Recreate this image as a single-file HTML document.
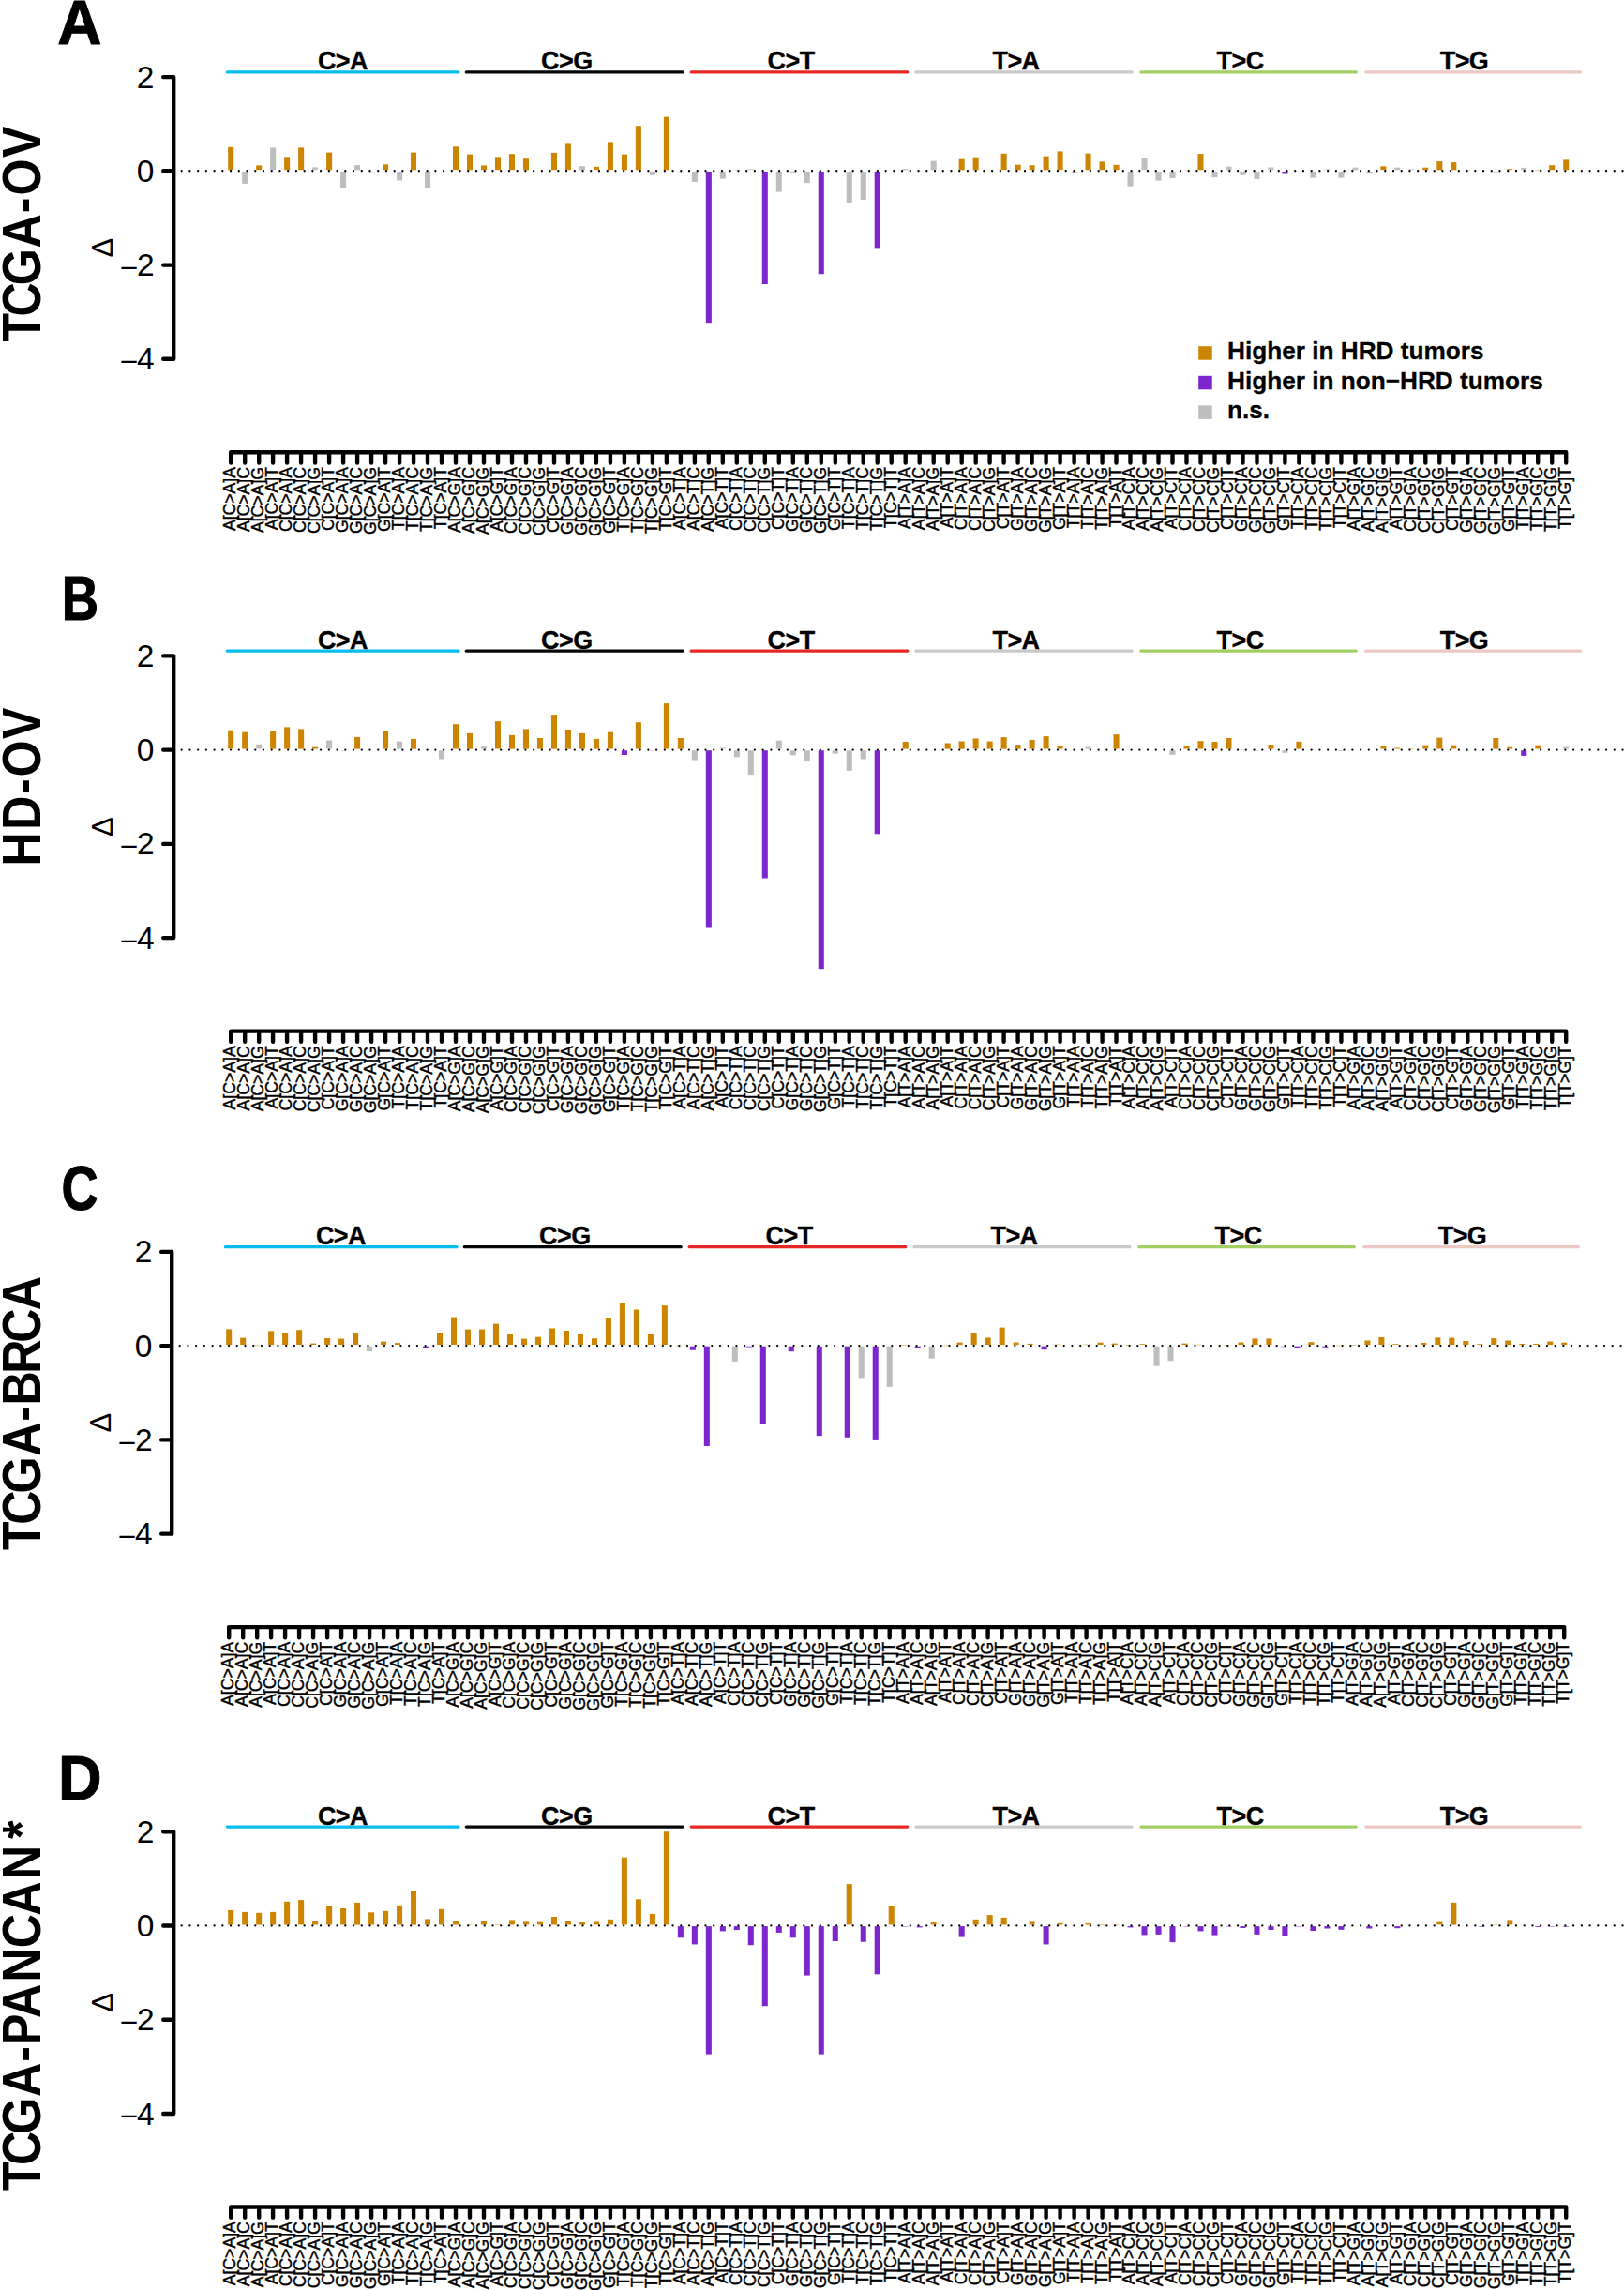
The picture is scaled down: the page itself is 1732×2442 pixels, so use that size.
<!DOCTYPE html>
<html lang="en"><head><meta charset="utf-8"><title>Figure</title>
<style>
html,body{margin:0;padding:0;background:#fff}
body{width:1732px;height:2442px;overflow:hidden}
svg{display:block}
text{font-family:"Liberation Sans",sans-serif;fill:#000}
.b{font-weight:bold}
.tk{font-size:33.5px;text-anchor:end}
.xl{font-size:18.2px;text-anchor:end;stroke:#000;stroke-width:0.45px}
.ct{font-size:27px;font-weight:bold;text-anchor:middle;letter-spacing:-0.6px;stroke:#000;stroke-width:0.3px}
.lg{font-size:26.2px;font-weight:bold;stroke:#000;stroke-width:0.3px}
.pl{font-size:65.8px;font-weight:bold;stroke:#000;stroke-width:1px;vector-effect:non-scaling-stroke;stroke-linejoin:round}
.sl{font-size:57px;font-weight:bold}
.ax{fill:none;stroke:#000;stroke-width:4.4;stroke-linecap:round;stroke-linejoin:round}
</style></head><body>
<svg width="1732" height="2442" viewBox="0 0 1732 2442">
<rect width="1732" height="2442" fill="#fff"/>
<g>
<text class="pl" transform="translate(61.3 47.0) scale(0.993 1)">A</text>
<text class="sl" transform="translate(42.8 364.0) rotate(-90) scale(0.88 1)" x="-0.6 30.2 68.0 113.2 155.4 176.7 222.7">TCGA-OV</text>
<g transform="translate(0.0 0.0)">
<line x1="242.4" y1="76.9" x2="489.0" y2="76.9" stroke="#03BDEF" stroke-width="3.2" stroke-linecap="round"/><text class="ct" x="365.4" y="74.4">C&gt;A</text>
<line x1="497.3" y1="76.9" x2="728.2" y2="76.9" stroke="#050708" stroke-width="3.2" stroke-linecap="round"/><text class="ct" x="604.3" y="74.4">C&gt;G</text>
<line x1="737.2" y1="76.9" x2="967.8" y2="76.9" stroke="#E62725" stroke-width="3.2" stroke-linecap="round"/><text class="ct" x="843.6" y="74.4">C&gt;T</text>
<line x1="977.0" y1="76.9" x2="1207.0" y2="76.9" stroke="#CBCACB" stroke-width="3.2" stroke-linecap="round"/><text class="ct" x="1083.5" y="74.4">T&gt;A</text>
<line x1="1216.9" y1="76.9" x2="1446.2" y2="76.9" stroke="#A1CF64" stroke-width="3.2" stroke-linecap="round"/><text class="ct" x="1322.6" y="74.4">T&gt;C</text>
<line x1="1456.7" y1="76.9" x2="1685.4" y2="76.9" stroke="#EDC8C5" stroke-width="3.2" stroke-linecap="round"/><text class="ct" x="1561.5" y="74.4">T&gt;G</text>
<rect x="243.16" y="156.8" width="6.05" height="24.5" fill="#CD8500"/><rect x="258.15" y="182.9" width="6.05" height="13.0" fill="#BEBEBE"/><rect x="273.14" y="176.4" width="6.05" height="4.8" fill="#CD8500"/><rect x="288.12" y="157.4" width="6.05" height="23.8" fill="#BEBEBE"/><rect x="303.12" y="167.3" width="6.05" height="13.9" fill="#CD8500"/><rect x="318.11" y="157.4" width="6.05" height="23.8" fill="#CD8500"/><rect x="333.10" y="178.4" width="6.05" height="2.8" fill="#BEBEBE"/><rect x="348.09" y="162.6" width="6.05" height="18.7" fill="#CD8500"/><rect x="363.08" y="182.9" width="6.05" height="17.3" fill="#BEBEBE"/><rect x="378.07" y="176.1" width="6.05" height="5.2" fill="#BEBEBE"/><rect x="393.06" y="182.9" width="6.05" height="0.6" fill="#BEBEBE" opacity="0.7"/><rect x="408.05" y="175.3" width="6.05" height="5.9" fill="#CD8500"/><rect x="423.04" y="182.9" width="6.05" height="9.5" fill="#BEBEBE"/><rect x="438.03" y="162.6" width="6.05" height="18.7" fill="#CD8500"/><rect x="453.02" y="182.9" width="6.05" height="17.5" fill="#BEBEBE"/><rect x="483.00" y="156.3" width="6.05" height="24.9" fill="#CD8500"/><rect x="497.99" y="164.6" width="6.05" height="16.7" fill="#CD8500"/><rect x="512.98" y="176.4" width="6.05" height="4.8" fill="#CD8500"/><rect x="527.97" y="167.3" width="6.05" height="13.9" fill="#CD8500"/><rect x="542.96" y="164.2" width="6.05" height="17.0" fill="#CD8500"/><rect x="557.95" y="169.2" width="6.05" height="12.1" fill="#CD8500"/><rect x="587.93" y="162.9" width="6.05" height="18.3" fill="#CD8500"/><rect x="602.92" y="153.4" width="6.05" height="27.8" fill="#CD8500"/><rect x="617.91" y="177.2" width="6.05" height="4.1" fill="#BEBEBE"/><rect x="632.90" y="177.8" width="6.05" height="3.4" fill="#CD8500"/><rect x="647.89" y="151.4" width="6.05" height="29.8" fill="#CD8500"/><rect x="662.88" y="164.6" width="6.05" height="16.7" fill="#CD8500"/><rect x="677.87" y="134.2" width="6.05" height="47.1" fill="#CD8500"/><rect x="692.86" y="182.9" width="6.05" height="3.9" fill="#BEBEBE"/><rect x="707.85" y="124.7" width="6.05" height="56.6" fill="#CD8500"/><rect x="722.84" y="182.9" width="6.05" height="0.6" fill="#BEBEBE" opacity="0.7"/><rect x="737.83" y="182.9" width="6.05" height="11.0" fill="#BEBEBE"/><rect x="752.82" y="182.9" width="6.05" height="161.3" fill="#7D26CD"/><rect x="767.80" y="182.9" width="6.05" height="7.7" fill="#BEBEBE"/><rect x="782.79" y="180.8" width="6.05" height="0.6" fill="#BEBEBE" opacity="0.7"/><rect x="797.78" y="180.4" width="6.05" height="0.8" fill="#BEBEBE"/><rect x="812.77" y="182.9" width="6.05" height="120.1" fill="#7D26CD"/><rect x="827.76" y="182.9" width="6.05" height="21.7" fill="#BEBEBE"/><rect x="842.75" y="182.9" width="6.05" height="1.9" fill="#BEBEBE"/><rect x="857.75" y="182.9" width="6.05" height="12.2" fill="#BEBEBE"/><rect x="872.74" y="182.9" width="6.05" height="109.3" fill="#7D26CD"/><rect x="902.72" y="182.9" width="6.05" height="33.4" fill="#BEBEBE"/><rect x="917.71" y="182.9" width="6.05" height="30.1" fill="#BEBEBE"/><rect x="932.70" y="182.9" width="6.05" height="81.5" fill="#7D26CD"/><rect x="962.68" y="180.1" width="6.05" height="1.2" fill="#BEBEBE"/><rect x="977.67" y="181.8" width="6.05" height="0.6" fill="#BEBEBE" opacity="0.7"/><rect x="992.66" y="171.7" width="6.05" height="9.6" fill="#BEBEBE"/><rect x="1022.64" y="169.7" width="6.05" height="11.6" fill="#CD8500"/><rect x="1037.62" y="167.7" width="6.05" height="13.6" fill="#CD8500"/><rect x="1052.62" y="181.8" width="6.05" height="0.6" fill="#BEBEBE" opacity="0.7"/><rect x="1067.61" y="163.8" width="6.05" height="17.4" fill="#CD8500"/><rect x="1082.60" y="175.6" width="6.05" height="5.7" fill="#CD8500"/><rect x="1097.59" y="176.2" width="6.05" height="5.0" fill="#CD8500"/><rect x="1112.57" y="166.6" width="6.05" height="14.7" fill="#CD8500"/><rect x="1127.56" y="161.4" width="6.05" height="19.8" fill="#CD8500"/><rect x="1142.55" y="182.9" width="6.05" height="1.7" fill="#BEBEBE"/><rect x="1157.54" y="163.7" width="6.05" height="17.6" fill="#CD8500"/><rect x="1172.53" y="172.4" width="6.05" height="8.8" fill="#CD8500"/><rect x="1187.52" y="175.8" width="6.05" height="5.4" fill="#CD8500"/><rect x="1202.51" y="182.9" width="6.05" height="15.7" fill="#BEBEBE"/><rect x="1217.50" y="168.2" width="6.05" height="13.0" fill="#BEBEBE"/><rect x="1232.49" y="182.9" width="6.05" height="9.7" fill="#BEBEBE"/><rect x="1247.48" y="182.9" width="6.05" height="7.1" fill="#BEBEBE"/><rect x="1262.47" y="180.8" width="6.05" height="0.6" fill="#BEBEBE" opacity="0.7"/><rect x="1277.46" y="164.1" width="6.05" height="17.2" fill="#CD8500"/><rect x="1292.45" y="182.9" width="6.05" height="6.2" fill="#BEBEBE"/><rect x="1307.44" y="177.6" width="6.05" height="3.7" fill="#BEBEBE"/><rect x="1322.43" y="182.9" width="6.05" height="3.9" fill="#BEBEBE"/><rect x="1337.42" y="182.9" width="6.05" height="8.0" fill="#BEBEBE"/><rect x="1352.41" y="178.4" width="6.05" height="2.8" fill="#BEBEBE"/><rect x="1367.40" y="182.9" width="6.05" height="2.6" fill="#7D26CD"/><rect x="1382.39" y="181.9" width="6.05" height="0.6" fill="#BEBEBE" opacity="0.7"/><rect x="1397.38" y="182.9" width="6.05" height="6.7" fill="#BEBEBE"/><rect x="1412.38" y="180.4" width="6.05" height="0.8" fill="#BEBEBE"/><rect x="1427.37" y="182.9" width="6.05" height="6.7" fill="#BEBEBE"/><rect x="1442.36" y="178.7" width="6.05" height="2.6" fill="#BEBEBE"/><rect x="1457.35" y="182.9" width="6.05" height="2.3" fill="#BEBEBE"/><rect x="1472.34" y="177.3" width="6.05" height="3.9" fill="#CD8500"/><rect x="1487.33" y="178.7" width="6.05" height="2.6" fill="#BEBEBE"/><rect x="1502.32" y="180.4" width="6.05" height="0.8" fill="#BEBEBE"/><rect x="1517.31" y="178.7" width="6.05" height="2.6" fill="#CD8500"/><rect x="1532.30" y="172.1" width="6.05" height="9.2" fill="#CD8500"/><rect x="1547.29" y="173.1" width="6.05" height="8.2" fill="#CD8500"/><rect x="1562.28" y="181.2" width="6.05" height="0.6" fill="#BEBEBE" opacity="0.7"/><rect x="1592.25" y="182.9" width="6.05" height="0.8" fill="#BEBEBE"/><rect x="1607.24" y="180.2" width="6.05" height="1.0" fill="#CD8500"/><rect x="1622.23" y="178.9" width="6.05" height="2.3" fill="#BEBEBE"/><rect x="1637.22" y="181.2" width="6.05" height="0.6" fill="#CD8500" opacity="0.7"/><rect x="1652.21" y="176.2" width="6.05" height="5.1" fill="#CD8500"/><rect x="1667.20" y="170.4" width="6.05" height="10.8" fill="#CD8500"/>
<line x1="184.93" y1="182.25" x2="1745" y2="182.25" stroke="#000" stroke-width="2.3" stroke-linecap="round" stroke-dasharray="0 8.732"/>
<path class="ax" d="M174.2 82.1H185.2V382.8H174.2M174.2 182.3H185.2M174.2 282.6H185.2"/>
<text class="tk" x="164.4" y="93.7">2</text><text class="tk" x="164.4" y="193.9">0</text><text class="tk" x="163.3" y="294.2"><tspan dx="1.3" dy="2.85">−</tspan><tspan dx="-1.3" dy="-2.85">2</tspan></text><text class="tk" x="163.3" y="394.4"><tspan dx="1.3" dy="2.85">−</tspan><tspan dx="-1.3" dy="-2.85">4</tspan></text>
<text transform="translate(120.2 274.6) rotate(-90)" font-size="30.8">Δ</text>
<path class="ax" d="M246.18 482.3H1670.23M246.2 482.3v11.15M261.2 482.3v11.15M276.2 482.3v11.15M291.1 482.3v11.15M306.1 482.3v11.15M321.1 482.3v11.15M336.1 482.3v11.15M351.1 482.3v11.15M366.1 482.3v11.15M381.1 482.3v11.15M396.1 482.3v11.15M411.1 482.3v11.15M426.1 482.3v11.15M441.1 482.3v11.15M456.0 482.3v11.15M471.0 482.3v11.15M486.0 482.3v11.15M501.0 482.3v11.15M516.0 482.3v11.15M531.0 482.3v11.15M546.0 482.3v11.15M561.0 482.3v11.15M576.0 482.3v11.15M591.0 482.3v11.15M605.9 482.3v11.15M620.9 482.3v11.15M635.9 482.3v11.15M650.9 482.3v11.15M665.9 482.3v11.15M680.9 482.3v11.15M695.9 482.3v11.15M710.9 482.3v11.15M725.9 482.3v11.15M740.9 482.3v11.15M755.8 482.3v11.15M770.8 482.3v11.15M785.8 482.3v11.15M800.8 482.3v11.15M815.8 482.3v11.15M830.8 482.3v11.15M845.8 482.3v11.15M860.8 482.3v11.15M875.8 482.3v11.15M890.8 482.3v11.15M905.7 482.3v11.15M920.7 482.3v11.15M935.7 482.3v11.15M950.7 482.3v11.15M965.7 482.3v11.15M980.7 482.3v11.15M995.7 482.3v11.15M1010.7 482.3v11.15M1025.7 482.3v11.15M1040.7 482.3v11.15M1055.6 482.3v11.15M1070.6 482.3v11.15M1085.6 482.3v11.15M1100.6 482.3v11.15M1115.6 482.3v11.15M1130.6 482.3v11.15M1145.6 482.3v11.15M1160.6 482.3v11.15M1175.6 482.3v11.15M1190.5 482.3v11.15M1205.5 482.3v11.15M1220.5 482.3v11.15M1235.5 482.3v11.15M1250.5 482.3v11.15M1265.5 482.3v11.15M1280.5 482.3v11.15M1295.5 482.3v11.15M1310.5 482.3v11.15M1325.5 482.3v11.15M1340.5 482.3v11.15M1355.4 482.3v11.15M1370.4 482.3v11.15M1385.4 482.3v11.15M1400.4 482.3v11.15M1415.4 482.3v11.15M1430.4 482.3v11.15M1445.4 482.3v11.15M1460.4 482.3v11.15M1475.4 482.3v11.15M1490.4 482.3v11.15M1505.3 482.3v11.15M1520.3 482.3v11.15M1535.3 482.3v11.15M1550.3 482.3v11.15M1565.3 482.3v11.15M1580.3 482.3v11.15M1595.3 482.3v11.15M1610.3 482.3v11.15M1625.3 482.3v11.15M1640.2 482.3v11.15M1655.2 482.3v11.15M1670.2 482.3v11.15"/>
<text class="xl" transform="translate(251.1 498.0) rotate(-90) scale(0.97 1)">A[C&gt;A]A</text><text class="xl" transform="translate(266.1 498.0) rotate(-90) scale(0.97 1)">A[C&gt;A]C</text><text class="xl" transform="translate(281.1 498.0) rotate(-90) scale(0.97 1)">A[C&gt;A]G</text><text class="xl" transform="translate(296.0 498.0) rotate(-90) scale(0.97 1)">A[C&gt;A]T</text><text class="xl" transform="translate(311.0 498.0) rotate(-90) scale(0.97 1)">C[C&gt;A]A</text><text class="xl" transform="translate(326.0 498.0) rotate(-90) scale(0.97 1)">C[C&gt;A]C</text><text class="xl" transform="translate(341.0 498.0) rotate(-90) scale(0.97 1)">C[C&gt;A]G</text><text class="xl" transform="translate(356.0 498.0) rotate(-90) scale(0.97 1)">C[C&gt;A]T</text><text class="xl" transform="translate(371.0 498.0) rotate(-90) scale(0.97 1)">G[C&gt;A]A</text><text class="xl" transform="translate(386.0 498.0) rotate(-90) scale(0.97 1)">G[C&gt;A]C</text><text class="xl" transform="translate(401.0 498.0) rotate(-90) scale(0.97 1)">G[C&gt;A]G</text><text class="xl" transform="translate(416.0 498.0) rotate(-90) scale(0.97 1)">G[C&gt;A]T</text><text class="xl" transform="translate(431.0 498.0) rotate(-90) scale(0.97 1)">T[C&gt;A]A</text><text class="xl" transform="translate(445.9 498.0) rotate(-90) scale(0.97 1)">T[C&gt;A]C</text><text class="xl" transform="translate(460.9 498.0) rotate(-90) scale(0.97 1)">T[C&gt;A]G</text><text class="xl" transform="translate(475.9 498.0) rotate(-90) scale(0.97 1)">T[C&gt;A]T</text><text class="xl" transform="translate(490.9 498.0) rotate(-90) scale(0.97 1)">A[C&gt;G]A</text><text class="xl" transform="translate(505.9 498.0) rotate(-90) scale(0.97 1)">A[C&gt;G]C</text><text class="xl" transform="translate(520.9 498.0) rotate(-90) scale(0.97 1)">A[C&gt;G]G</text><text class="xl" transform="translate(535.9 498.0) rotate(-90) scale(0.97 1)">A[C&gt;G]T</text><text class="xl" transform="translate(550.9 498.0) rotate(-90) scale(0.97 1)">C[C&gt;G]A</text><text class="xl" transform="translate(565.9 498.0) rotate(-90) scale(0.97 1)">C[C&gt;G]C</text><text class="xl" transform="translate(580.9 498.0) rotate(-90) scale(0.97 1)">C[C&gt;G]G</text><text class="xl" transform="translate(595.9 498.0) rotate(-90) scale(0.97 1)">C[C&gt;G]T</text><text class="xl" transform="translate(610.8 498.0) rotate(-90) scale(0.97 1)">G[C&gt;G]A</text><text class="xl" transform="translate(625.8 498.0) rotate(-90) scale(0.97 1)">G[C&gt;G]C</text><text class="xl" transform="translate(640.8 498.0) rotate(-90) scale(0.97 1)">G[C&gt;G]G</text><text class="xl" transform="translate(655.8 498.0) rotate(-90) scale(0.97 1)">G[C&gt;G]T</text><text class="xl" transform="translate(670.8 498.0) rotate(-90) scale(0.97 1)">T[C&gt;G]A</text><text class="xl" transform="translate(685.8 498.0) rotate(-90) scale(0.97 1)">T[C&gt;G]C</text><text class="xl" transform="translate(700.8 498.0) rotate(-90) scale(0.97 1)">T[C&gt;G]G</text><text class="xl" transform="translate(715.8 498.0) rotate(-90) scale(0.97 1)">T[C&gt;G]T</text><text class="xl" transform="translate(730.8 498.0) rotate(-90) scale(0.97 1)">A[C&gt;T]A</text><text class="xl" transform="translate(745.8 498.0) rotate(-90) scale(0.97 1)">A[C&gt;T]C</text><text class="xl" transform="translate(760.7 498.0) rotate(-90) scale(0.97 1)">A[C&gt;T]G</text><text class="xl" transform="translate(775.7 498.0) rotate(-90) scale(0.97 1)">A[C&gt;T]T</text><text class="xl" transform="translate(790.7 498.0) rotate(-90) scale(0.97 1)">C[C&gt;T]A</text><text class="xl" transform="translate(805.7 498.0) rotate(-90) scale(0.97 1)">C[C&gt;T]C</text><text class="xl" transform="translate(820.7 498.0) rotate(-90) scale(0.97 1)">C[C&gt;T]G</text><text class="xl" transform="translate(835.7 498.0) rotate(-90) scale(0.97 1)">C[C&gt;T]T</text><text class="xl" transform="translate(850.7 498.0) rotate(-90) scale(0.97 1)">G[C&gt;T]A</text><text class="xl" transform="translate(865.7 498.0) rotate(-90) scale(0.97 1)">G[C&gt;T]C</text><text class="xl" transform="translate(880.7 498.0) rotate(-90) scale(0.97 1)">G[C&gt;T]G</text><text class="xl" transform="translate(895.6 498.0) rotate(-90) scale(0.97 1)">G[C&gt;T]T</text><text class="xl" transform="translate(910.6 498.0) rotate(-90) scale(0.97 1)">T[C&gt;T]A</text><text class="xl" transform="translate(925.6 498.0) rotate(-90) scale(0.97 1)">T[C&gt;T]C</text><text class="xl" transform="translate(940.6 498.0) rotate(-90) scale(0.97 1)">T[C&gt;T]G</text><text class="xl" transform="translate(955.6 498.0) rotate(-90) scale(0.97 1)">T[C&gt;T]T</text><text class="xl" transform="translate(970.6 498.0) rotate(-90) scale(0.97 1)">A[T&gt;A]A</text><text class="xl" transform="translate(985.6 498.0) rotate(-90) scale(0.97 1)">A[T&gt;A]C</text><text class="xl" transform="translate(1000.6 498.0) rotate(-90) scale(0.97 1)">A[T&gt;A]G</text><text class="xl" transform="translate(1015.6 498.0) rotate(-90) scale(0.97 1)">A[T&gt;A]T</text><text class="xl" transform="translate(1030.6 498.0) rotate(-90) scale(0.97 1)">C[T&gt;A]A</text><text class="xl" transform="translate(1045.6 498.0) rotate(-90) scale(0.97 1)">C[T&gt;A]C</text><text class="xl" transform="translate(1060.5 498.0) rotate(-90) scale(0.97 1)">C[T&gt;A]G</text><text class="xl" transform="translate(1075.5 498.0) rotate(-90) scale(0.97 1)">C[T&gt;A]T</text><text class="xl" transform="translate(1090.5 498.0) rotate(-90) scale(0.97 1)">G[T&gt;A]A</text><text class="xl" transform="translate(1105.5 498.0) rotate(-90) scale(0.97 1)">G[T&gt;A]C</text><text class="xl" transform="translate(1120.5 498.0) rotate(-90) scale(0.97 1)">G[T&gt;A]G</text><text class="xl" transform="translate(1135.5 498.0) rotate(-90) scale(0.97 1)">G[T&gt;A]T</text><text class="xl" transform="translate(1150.5 498.0) rotate(-90) scale(0.97 1)">T[T&gt;A]A</text><text class="xl" transform="translate(1165.5 498.0) rotate(-90) scale(0.97 1)">T[T&gt;A]C</text><text class="xl" transform="translate(1180.5 498.0) rotate(-90) scale(0.97 1)">T[T&gt;A]G</text><text class="xl" transform="translate(1195.5 498.0) rotate(-90) scale(0.97 1)">T[T&gt;A]T</text><text class="xl" transform="translate(1210.4 498.0) rotate(-90) scale(0.97 1)">A[T&gt;C]A</text><text class="xl" transform="translate(1225.4 498.0) rotate(-90) scale(0.97 1)">A[T&gt;C]C</text><text class="xl" transform="translate(1240.4 498.0) rotate(-90) scale(0.97 1)">A[T&gt;C]G</text><text class="xl" transform="translate(1255.4 498.0) rotate(-90) scale(0.97 1)">A[T&gt;C]T</text><text class="xl" transform="translate(1270.4 498.0) rotate(-90) scale(0.97 1)">C[T&gt;C]A</text><text class="xl" transform="translate(1285.4 498.0) rotate(-90) scale(0.97 1)">C[T&gt;C]C</text><text class="xl" transform="translate(1300.4 498.0) rotate(-90) scale(0.97 1)">C[T&gt;C]G</text><text class="xl" transform="translate(1315.4 498.0) rotate(-90) scale(0.97 1)">C[T&gt;C]T</text><text class="xl" transform="translate(1330.4 498.0) rotate(-90) scale(0.97 1)">G[T&gt;C]A</text><text class="xl" transform="translate(1345.4 498.0) rotate(-90) scale(0.97 1)">G[T&gt;C]C</text><text class="xl" transform="translate(1360.3 498.0) rotate(-90) scale(0.97 1)">G[T&gt;C]G</text><text class="xl" transform="translate(1375.3 498.0) rotate(-90) scale(0.97 1)">G[T&gt;C]T</text><text class="xl" transform="translate(1390.3 498.0) rotate(-90) scale(0.97 1)">T[T&gt;C]A</text><text class="xl" transform="translate(1405.3 498.0) rotate(-90) scale(0.97 1)">T[T&gt;C]C</text><text class="xl" transform="translate(1420.3 498.0) rotate(-90) scale(0.97 1)">T[T&gt;C]G</text><text class="xl" transform="translate(1435.3 498.0) rotate(-90) scale(0.97 1)">T[T&gt;C]T</text><text class="xl" transform="translate(1450.3 498.0) rotate(-90) scale(0.97 1)">A[T&gt;G]A</text><text class="xl" transform="translate(1465.3 498.0) rotate(-90) scale(0.97 1)">A[T&gt;G]C</text><text class="xl" transform="translate(1480.3 498.0) rotate(-90) scale(0.97 1)">A[T&gt;G]G</text><text class="xl" transform="translate(1495.3 498.0) rotate(-90) scale(0.97 1)">A[T&gt;G]T</text><text class="xl" transform="translate(1510.2 498.0) rotate(-90) scale(0.97 1)">C[T&gt;G]A</text><text class="xl" transform="translate(1525.2 498.0) rotate(-90) scale(0.97 1)">C[T&gt;G]C</text><text class="xl" transform="translate(1540.2 498.0) rotate(-90) scale(0.97 1)">C[T&gt;G]G</text><text class="xl" transform="translate(1555.2 498.0) rotate(-90) scale(0.97 1)">C[T&gt;G]T</text><text class="xl" transform="translate(1570.2 498.0) rotate(-90) scale(0.97 1)">G[T&gt;G]A</text><text class="xl" transform="translate(1585.2 498.0) rotate(-90) scale(0.97 1)">G[T&gt;G]C</text><text class="xl" transform="translate(1600.2 498.0) rotate(-90) scale(0.97 1)">G[T&gt;G]G</text><text class="xl" transform="translate(1615.2 498.0) rotate(-90) scale(0.97 1)">G[T&gt;G]T</text><text class="xl" transform="translate(1630.2 498.0) rotate(-90) scale(0.97 1)">T[T&gt;G]A</text><text class="xl" transform="translate(1645.2 498.0) rotate(-90) scale(0.97 1)">T[T&gt;G]C</text><text class="xl" transform="translate(1660.1 498.0) rotate(-90) scale(0.97 1)">T[T&gt;G]G</text><text class="xl" transform="translate(1675.1 498.0) rotate(-90) scale(0.97 1)">T[T&gt;G]T</text>
<rect x="1278.2" y="369.2" width="14.5" height="14.5" fill="#CD8500"/><text class="lg" x="1309.0" y="383.1">Higher in HRD tumors</text>
<rect x="1278.2" y="400.8" width="14.5" height="14.5" fill="#7D26CD"/><text class="lg" x="1309.0" y="414.8">Higher in non−HRD tumors</text>
<rect x="1278.2" y="432.4" width="14.5" height="14.5" fill="#BEBEBE"/><text class="lg" x="1309.0" y="446.4">n.s.</text>
</g></g>
<g>
<text class="pl" transform="translate(65.8 661.2) scale(0.828 1)">B</text>
<text class="sl" transform="translate(42.8 920.7) rotate(-90) scale(0.88 1)" x="-3.3 40.8 83.8 104.7 150.8">HD-OV</text>
<g transform="translate(0.0 617.3)">
<line x1="242.4" y1="76.9" x2="489.0" y2="76.9" stroke="#03BDEF" stroke-width="3.2" stroke-linecap="round"/><text class="ct" x="365.4" y="74.4">C&gt;A</text>
<line x1="497.3" y1="76.9" x2="728.2" y2="76.9" stroke="#050708" stroke-width="3.2" stroke-linecap="round"/><text class="ct" x="604.3" y="74.4">C&gt;G</text>
<line x1="737.2" y1="76.9" x2="967.8" y2="76.9" stroke="#E62725" stroke-width="3.2" stroke-linecap="round"/><text class="ct" x="843.6" y="74.4">C&gt;T</text>
<line x1="977.0" y1="76.9" x2="1207.0" y2="76.9" stroke="#CBCACB" stroke-width="3.2" stroke-linecap="round"/><text class="ct" x="1083.5" y="74.4">T&gt;A</text>
<line x1="1216.9" y1="76.9" x2="1446.2" y2="76.9" stroke="#A1CF64" stroke-width="3.2" stroke-linecap="round"/><text class="ct" x="1322.6" y="74.4">T&gt;C</text>
<line x1="1456.7" y1="76.9" x2="1685.4" y2="76.9" stroke="#EDC8C5" stroke-width="3.2" stroke-linecap="round"/><text class="ct" x="1561.5" y="74.4">T&gt;G</text>
<rect x="243.16" y="161.4" width="6.05" height="19.8" fill="#CD8500"/><rect x="258.15" y="163.4" width="6.05" height="17.8" fill="#CD8500"/><rect x="273.14" y="176.4" width="6.05" height="4.8" fill="#BEBEBE"/><rect x="288.12" y="162.1" width="6.05" height="19.2" fill="#CD8500"/><rect x="303.12" y="158.1" width="6.05" height="23.2" fill="#CD8500"/><rect x="318.11" y="160.1" width="6.05" height="21.2" fill="#CD8500"/><rect x="333.10" y="179.3" width="6.05" height="1.9" fill="#CD8500"/><rect x="348.09" y="172.2" width="6.05" height="9.0" fill="#BEBEBE"/><rect x="363.08" y="182.9" width="6.05" height="0.6" fill="#BEBEBE" opacity="0.7"/><rect x="378.07" y="168.6" width="6.05" height="12.7" fill="#CD8500"/><rect x="408.05" y="161.7" width="6.05" height="19.6" fill="#CD8500"/><rect x="423.04" y="173.3" width="6.05" height="7.9" fill="#BEBEBE"/><rect x="438.03" y="170.6" width="6.05" height="10.7" fill="#CD8500"/><rect x="453.02" y="181.8" width="6.05" height="0.6" fill="#BEBEBE" opacity="0.7"/><rect x="468.00" y="182.9" width="6.05" height="9.3" fill="#BEBEBE"/><rect x="483.00" y="154.9" width="6.05" height="26.3" fill="#CD8500"/><rect x="497.99" y="164.6" width="6.05" height="16.7" fill="#CD8500"/><rect x="512.98" y="178.8" width="6.05" height="2.5" fill="#BEBEBE"/><rect x="527.97" y="151.8" width="6.05" height="29.4" fill="#CD8500"/><rect x="542.96" y="166.6" width="6.05" height="14.7" fill="#CD8500"/><rect x="557.95" y="160.1" width="6.05" height="21.2" fill="#CD8500"/><rect x="572.94" y="169.7" width="6.05" height="11.6" fill="#CD8500"/><rect x="587.93" y="144.8" width="6.05" height="36.5" fill="#CD8500"/><rect x="602.92" y="160.6" width="6.05" height="20.7" fill="#CD8500"/><rect x="617.91" y="164.6" width="6.05" height="16.7" fill="#CD8500"/><rect x="632.90" y="170.6" width="6.05" height="10.7" fill="#CD8500"/><rect x="647.89" y="163.4" width="6.05" height="17.8" fill="#CD8500"/><rect x="662.88" y="182.9" width="6.05" height="4.8" fill="#7D26CD"/><rect x="677.87" y="152.9" width="6.05" height="28.3" fill="#CD8500"/><rect x="692.86" y="182.9" width="6.05" height="0.6" fill="#BEBEBE" opacity="0.7"/><rect x="707.85" y="132.8" width="6.05" height="48.4" fill="#CD8500"/><rect x="722.84" y="169.7" width="6.05" height="11.6" fill="#CD8500"/><rect x="737.83" y="182.9" width="6.05" height="10.4" fill="#BEBEBE"/><rect x="752.82" y="182.9" width="6.05" height="189.3" fill="#7D26CD"/><rect x="767.80" y="180.2" width="6.05" height="1.0" fill="#BEBEBE"/><rect x="782.79" y="182.9" width="6.05" height="7.1" fill="#BEBEBE"/><rect x="797.78" y="182.9" width="6.05" height="25.9" fill="#BEBEBE"/><rect x="812.77" y="182.9" width="6.05" height="136.3" fill="#7D26CD"/><rect x="827.76" y="172.4" width="6.05" height="8.8" fill="#BEBEBE"/><rect x="842.75" y="182.9" width="6.05" height="5.1" fill="#BEBEBE"/><rect x="857.75" y="182.9" width="6.05" height="11.9" fill="#BEBEBE"/><rect x="872.74" y="182.9" width="6.05" height="233.0" fill="#7D26CD"/><rect x="887.73" y="182.9" width="6.05" height="3.5" fill="#BEBEBE"/><rect x="902.72" y="182.9" width="6.05" height="21.7" fill="#BEBEBE"/><rect x="917.71" y="182.9" width="6.05" height="9.3" fill="#BEBEBE"/><rect x="932.70" y="182.9" width="6.05" height="89.1" fill="#7D26CD"/><rect x="962.68" y="173.7" width="6.05" height="7.6" fill="#CD8500"/><rect x="1007.65" y="175.2" width="6.05" height="6.1" fill="#CD8500"/><rect x="1022.64" y="173.2" width="6.05" height="8.1" fill="#CD8500"/><rect x="1037.62" y="170.2" width="6.05" height="11.0" fill="#CD8500"/><rect x="1052.62" y="173.3" width="6.05" height="7.9" fill="#CD8500"/><rect x="1067.61" y="168.8" width="6.05" height="12.5" fill="#CD8500"/><rect x="1082.60" y="176.8" width="6.05" height="4.5" fill="#CD8500"/><rect x="1097.59" y="171.7" width="6.05" height="9.6" fill="#CD8500"/><rect x="1112.57" y="167.8" width="6.05" height="13.4" fill="#CD8500"/><rect x="1127.56" y="178.1" width="6.05" height="3.2" fill="#CD8500"/><rect x="1157.54" y="179.2" width="6.05" height="2.1" fill="#BEBEBE"/><rect x="1187.52" y="165.8" width="6.05" height="15.4" fill="#CD8500"/><rect x="1202.51" y="181.8" width="6.05" height="0.6" fill="#BEBEBE" opacity="0.7"/><rect x="1247.48" y="182.9" width="6.05" height="4.6" fill="#BEBEBE"/><rect x="1262.47" y="177.8" width="6.05" height="3.4" fill="#CD8500"/><rect x="1277.46" y="172.9" width="6.05" height="8.3" fill="#CD8500"/><rect x="1292.45" y="173.7" width="6.05" height="7.6" fill="#CD8500"/><rect x="1307.44" y="169.7" width="6.05" height="11.6" fill="#CD8500"/><rect x="1322.43" y="181.8" width="6.05" height="0.6" fill="#BEBEBE" opacity="0.7"/><rect x="1337.42" y="182.9" width="6.05" height="0.6" fill="#BEBEBE" opacity="0.7"/><rect x="1352.41" y="176.7" width="6.05" height="4.6" fill="#CD8500"/><rect x="1367.40" y="182.9" width="6.05" height="2.6" fill="#BEBEBE"/><rect x="1382.39" y="173.6" width="6.05" height="7.7" fill="#CD8500"/><rect x="1397.38" y="181.8" width="6.05" height="0.6" fill="#BEBEBE" opacity="0.7"/><rect x="1427.37" y="182.9" width="6.05" height="0.8" fill="#BEBEBE"/><rect x="1472.34" y="178.4" width="6.05" height="2.8" fill="#CD8500"/><rect x="1487.33" y="180.2" width="6.05" height="1.0" fill="#CD8500"/><rect x="1502.32" y="180.9" width="6.05" height="0.6" fill="#CD8500" opacity="0.7"/><rect x="1517.31" y="177.3" width="6.05" height="3.9" fill="#CD8500"/><rect x="1532.30" y="169.4" width="6.05" height="11.8" fill="#CD8500"/><rect x="1547.29" y="177.3" width="6.05" height="3.9" fill="#CD8500"/><rect x="1562.28" y="182.9" width="6.05" height="0.6" fill="#BEBEBE" opacity="0.7"/><rect x="1577.27" y="182.9" width="6.05" height="0.6" fill="#BEBEBE" opacity="0.7"/><rect x="1592.25" y="169.7" width="6.05" height="11.6" fill="#CD8500"/><rect x="1607.24" y="179.4" width="6.05" height="1.8" fill="#CD8500"/><rect x="1622.23" y="182.9" width="6.05" height="5.7" fill="#7D26CD"/><rect x="1637.22" y="177.3" width="6.05" height="3.9" fill="#CD8500"/><rect x="1667.20" y="179.2" width="6.05" height="2.0" fill="#BEBEBE"/>
<line x1="184.93" y1="182.25" x2="1745" y2="182.25" stroke="#000" stroke-width="2.3" stroke-linecap="round" stroke-dasharray="0 8.732"/>
<path class="ax" d="M174.2 82.1H185.2V382.8H174.2M174.2 182.3H185.2M174.2 282.6H185.2"/>
<text class="tk" x="164.4" y="93.7">2</text><text class="tk" x="164.4" y="193.9">0</text><text class="tk" x="163.3" y="294.2"><tspan dx="1.3" dy="2.85">−</tspan><tspan dx="-1.3" dy="-2.85">2</tspan></text><text class="tk" x="163.3" y="394.4"><tspan dx="1.3" dy="2.85">−</tspan><tspan dx="-1.3" dy="-2.85">4</tspan></text>
<text transform="translate(120.2 274.6) rotate(-90)" font-size="30.8">Δ</text>
<path class="ax" d="M246.18 482.3H1670.23M246.2 482.3v11.15M261.2 482.3v11.15M276.2 482.3v11.15M291.1 482.3v11.15M306.1 482.3v11.15M321.1 482.3v11.15M336.1 482.3v11.15M351.1 482.3v11.15M366.1 482.3v11.15M381.1 482.3v11.15M396.1 482.3v11.15M411.1 482.3v11.15M426.1 482.3v11.15M441.1 482.3v11.15M456.0 482.3v11.15M471.0 482.3v11.15M486.0 482.3v11.15M501.0 482.3v11.15M516.0 482.3v11.15M531.0 482.3v11.15M546.0 482.3v11.15M561.0 482.3v11.15M576.0 482.3v11.15M591.0 482.3v11.15M605.9 482.3v11.15M620.9 482.3v11.15M635.9 482.3v11.15M650.9 482.3v11.15M665.9 482.3v11.15M680.9 482.3v11.15M695.9 482.3v11.15M710.9 482.3v11.15M725.9 482.3v11.15M740.9 482.3v11.15M755.8 482.3v11.15M770.8 482.3v11.15M785.8 482.3v11.15M800.8 482.3v11.15M815.8 482.3v11.15M830.8 482.3v11.15M845.8 482.3v11.15M860.8 482.3v11.15M875.8 482.3v11.15M890.8 482.3v11.15M905.7 482.3v11.15M920.7 482.3v11.15M935.7 482.3v11.15M950.7 482.3v11.15M965.7 482.3v11.15M980.7 482.3v11.15M995.7 482.3v11.15M1010.7 482.3v11.15M1025.7 482.3v11.15M1040.7 482.3v11.15M1055.6 482.3v11.15M1070.6 482.3v11.15M1085.6 482.3v11.15M1100.6 482.3v11.15M1115.6 482.3v11.15M1130.6 482.3v11.15M1145.6 482.3v11.15M1160.6 482.3v11.15M1175.6 482.3v11.15M1190.5 482.3v11.15M1205.5 482.3v11.15M1220.5 482.3v11.15M1235.5 482.3v11.15M1250.5 482.3v11.15M1265.5 482.3v11.15M1280.5 482.3v11.15M1295.5 482.3v11.15M1310.5 482.3v11.15M1325.5 482.3v11.15M1340.5 482.3v11.15M1355.4 482.3v11.15M1370.4 482.3v11.15M1385.4 482.3v11.15M1400.4 482.3v11.15M1415.4 482.3v11.15M1430.4 482.3v11.15M1445.4 482.3v11.15M1460.4 482.3v11.15M1475.4 482.3v11.15M1490.4 482.3v11.15M1505.3 482.3v11.15M1520.3 482.3v11.15M1535.3 482.3v11.15M1550.3 482.3v11.15M1565.3 482.3v11.15M1580.3 482.3v11.15M1595.3 482.3v11.15M1610.3 482.3v11.15M1625.3 482.3v11.15M1640.2 482.3v11.15M1655.2 482.3v11.15M1670.2 482.3v11.15"/>
<text class="xl" transform="translate(251.1 498.0) rotate(-90) scale(0.97 1)">A[C&gt;A]A</text><text class="xl" transform="translate(266.1 498.0) rotate(-90) scale(0.97 1)">A[C&gt;A]C</text><text class="xl" transform="translate(281.1 498.0) rotate(-90) scale(0.97 1)">A[C&gt;A]G</text><text class="xl" transform="translate(296.0 498.0) rotate(-90) scale(0.97 1)">A[C&gt;A]T</text><text class="xl" transform="translate(311.0 498.0) rotate(-90) scale(0.97 1)">C[C&gt;A]A</text><text class="xl" transform="translate(326.0 498.0) rotate(-90) scale(0.97 1)">C[C&gt;A]C</text><text class="xl" transform="translate(341.0 498.0) rotate(-90) scale(0.97 1)">C[C&gt;A]G</text><text class="xl" transform="translate(356.0 498.0) rotate(-90) scale(0.97 1)">C[C&gt;A]T</text><text class="xl" transform="translate(371.0 498.0) rotate(-90) scale(0.97 1)">G[C&gt;A]A</text><text class="xl" transform="translate(386.0 498.0) rotate(-90) scale(0.97 1)">G[C&gt;A]C</text><text class="xl" transform="translate(401.0 498.0) rotate(-90) scale(0.97 1)">G[C&gt;A]G</text><text class="xl" transform="translate(416.0 498.0) rotate(-90) scale(0.97 1)">G[C&gt;A]T</text><text class="xl" transform="translate(431.0 498.0) rotate(-90) scale(0.97 1)">T[C&gt;A]A</text><text class="xl" transform="translate(445.9 498.0) rotate(-90) scale(0.97 1)">T[C&gt;A]C</text><text class="xl" transform="translate(460.9 498.0) rotate(-90) scale(0.97 1)">T[C&gt;A]G</text><text class="xl" transform="translate(475.9 498.0) rotate(-90) scale(0.97 1)">T[C&gt;A]T</text><text class="xl" transform="translate(490.9 498.0) rotate(-90) scale(0.97 1)">A[C&gt;G]A</text><text class="xl" transform="translate(505.9 498.0) rotate(-90) scale(0.97 1)">A[C&gt;G]C</text><text class="xl" transform="translate(520.9 498.0) rotate(-90) scale(0.97 1)">A[C&gt;G]G</text><text class="xl" transform="translate(535.9 498.0) rotate(-90) scale(0.97 1)">A[C&gt;G]T</text><text class="xl" transform="translate(550.9 498.0) rotate(-90) scale(0.97 1)">C[C&gt;G]A</text><text class="xl" transform="translate(565.9 498.0) rotate(-90) scale(0.97 1)">C[C&gt;G]C</text><text class="xl" transform="translate(580.9 498.0) rotate(-90) scale(0.97 1)">C[C&gt;G]G</text><text class="xl" transform="translate(595.9 498.0) rotate(-90) scale(0.97 1)">C[C&gt;G]T</text><text class="xl" transform="translate(610.8 498.0) rotate(-90) scale(0.97 1)">G[C&gt;G]A</text><text class="xl" transform="translate(625.8 498.0) rotate(-90) scale(0.97 1)">G[C&gt;G]C</text><text class="xl" transform="translate(640.8 498.0) rotate(-90) scale(0.97 1)">G[C&gt;G]G</text><text class="xl" transform="translate(655.8 498.0) rotate(-90) scale(0.97 1)">G[C&gt;G]T</text><text class="xl" transform="translate(670.8 498.0) rotate(-90) scale(0.97 1)">T[C&gt;G]A</text><text class="xl" transform="translate(685.8 498.0) rotate(-90) scale(0.97 1)">T[C&gt;G]C</text><text class="xl" transform="translate(700.8 498.0) rotate(-90) scale(0.97 1)">T[C&gt;G]G</text><text class="xl" transform="translate(715.8 498.0) rotate(-90) scale(0.97 1)">T[C&gt;G]T</text><text class="xl" transform="translate(730.8 498.0) rotate(-90) scale(0.97 1)">A[C&gt;T]A</text><text class="xl" transform="translate(745.8 498.0) rotate(-90) scale(0.97 1)">A[C&gt;T]C</text><text class="xl" transform="translate(760.7 498.0) rotate(-90) scale(0.97 1)">A[C&gt;T]G</text><text class="xl" transform="translate(775.7 498.0) rotate(-90) scale(0.97 1)">A[C&gt;T]T</text><text class="xl" transform="translate(790.7 498.0) rotate(-90) scale(0.97 1)">C[C&gt;T]A</text><text class="xl" transform="translate(805.7 498.0) rotate(-90) scale(0.97 1)">C[C&gt;T]C</text><text class="xl" transform="translate(820.7 498.0) rotate(-90) scale(0.97 1)">C[C&gt;T]G</text><text class="xl" transform="translate(835.7 498.0) rotate(-90) scale(0.97 1)">C[C&gt;T]T</text><text class="xl" transform="translate(850.7 498.0) rotate(-90) scale(0.97 1)">G[C&gt;T]A</text><text class="xl" transform="translate(865.7 498.0) rotate(-90) scale(0.97 1)">G[C&gt;T]C</text><text class="xl" transform="translate(880.7 498.0) rotate(-90) scale(0.97 1)">G[C&gt;T]G</text><text class="xl" transform="translate(895.6 498.0) rotate(-90) scale(0.97 1)">G[C&gt;T]T</text><text class="xl" transform="translate(910.6 498.0) rotate(-90) scale(0.97 1)">T[C&gt;T]A</text><text class="xl" transform="translate(925.6 498.0) rotate(-90) scale(0.97 1)">T[C&gt;T]C</text><text class="xl" transform="translate(940.6 498.0) rotate(-90) scale(0.97 1)">T[C&gt;T]G</text><text class="xl" transform="translate(955.6 498.0) rotate(-90) scale(0.97 1)">T[C&gt;T]T</text><text class="xl" transform="translate(970.6 498.0) rotate(-90) scale(0.97 1)">A[T&gt;A]A</text><text class="xl" transform="translate(985.6 498.0) rotate(-90) scale(0.97 1)">A[T&gt;A]C</text><text class="xl" transform="translate(1000.6 498.0) rotate(-90) scale(0.97 1)">A[T&gt;A]G</text><text class="xl" transform="translate(1015.6 498.0) rotate(-90) scale(0.97 1)">A[T&gt;A]T</text><text class="xl" transform="translate(1030.6 498.0) rotate(-90) scale(0.97 1)">C[T&gt;A]A</text><text class="xl" transform="translate(1045.6 498.0) rotate(-90) scale(0.97 1)">C[T&gt;A]C</text><text class="xl" transform="translate(1060.5 498.0) rotate(-90) scale(0.97 1)">C[T&gt;A]G</text><text class="xl" transform="translate(1075.5 498.0) rotate(-90) scale(0.97 1)">C[T&gt;A]T</text><text class="xl" transform="translate(1090.5 498.0) rotate(-90) scale(0.97 1)">G[T&gt;A]A</text><text class="xl" transform="translate(1105.5 498.0) rotate(-90) scale(0.97 1)">G[T&gt;A]C</text><text class="xl" transform="translate(1120.5 498.0) rotate(-90) scale(0.97 1)">G[T&gt;A]G</text><text class="xl" transform="translate(1135.5 498.0) rotate(-90) scale(0.97 1)">G[T&gt;A]T</text><text class="xl" transform="translate(1150.5 498.0) rotate(-90) scale(0.97 1)">T[T&gt;A]A</text><text class="xl" transform="translate(1165.5 498.0) rotate(-90) scale(0.97 1)">T[T&gt;A]C</text><text class="xl" transform="translate(1180.5 498.0) rotate(-90) scale(0.97 1)">T[T&gt;A]G</text><text class="xl" transform="translate(1195.5 498.0) rotate(-90) scale(0.97 1)">T[T&gt;A]T</text><text class="xl" transform="translate(1210.4 498.0) rotate(-90) scale(0.97 1)">A[T&gt;C]A</text><text class="xl" transform="translate(1225.4 498.0) rotate(-90) scale(0.97 1)">A[T&gt;C]C</text><text class="xl" transform="translate(1240.4 498.0) rotate(-90) scale(0.97 1)">A[T&gt;C]G</text><text class="xl" transform="translate(1255.4 498.0) rotate(-90) scale(0.97 1)">A[T&gt;C]T</text><text class="xl" transform="translate(1270.4 498.0) rotate(-90) scale(0.97 1)">C[T&gt;C]A</text><text class="xl" transform="translate(1285.4 498.0) rotate(-90) scale(0.97 1)">C[T&gt;C]C</text><text class="xl" transform="translate(1300.4 498.0) rotate(-90) scale(0.97 1)">C[T&gt;C]G</text><text class="xl" transform="translate(1315.4 498.0) rotate(-90) scale(0.97 1)">C[T&gt;C]T</text><text class="xl" transform="translate(1330.4 498.0) rotate(-90) scale(0.97 1)">G[T&gt;C]A</text><text class="xl" transform="translate(1345.4 498.0) rotate(-90) scale(0.97 1)">G[T&gt;C]C</text><text class="xl" transform="translate(1360.3 498.0) rotate(-90) scale(0.97 1)">G[T&gt;C]G</text><text class="xl" transform="translate(1375.3 498.0) rotate(-90) scale(0.97 1)">G[T&gt;C]T</text><text class="xl" transform="translate(1390.3 498.0) rotate(-90) scale(0.97 1)">T[T&gt;C]A</text><text class="xl" transform="translate(1405.3 498.0) rotate(-90) scale(0.97 1)">T[T&gt;C]C</text><text class="xl" transform="translate(1420.3 498.0) rotate(-90) scale(0.97 1)">T[T&gt;C]G</text><text class="xl" transform="translate(1435.3 498.0) rotate(-90) scale(0.97 1)">T[T&gt;C]T</text><text class="xl" transform="translate(1450.3 498.0) rotate(-90) scale(0.97 1)">A[T&gt;G]A</text><text class="xl" transform="translate(1465.3 498.0) rotate(-90) scale(0.97 1)">A[T&gt;G]C</text><text class="xl" transform="translate(1480.3 498.0) rotate(-90) scale(0.97 1)">A[T&gt;G]G</text><text class="xl" transform="translate(1495.3 498.0) rotate(-90) scale(0.97 1)">A[T&gt;G]T</text><text class="xl" transform="translate(1510.2 498.0) rotate(-90) scale(0.97 1)">C[T&gt;G]A</text><text class="xl" transform="translate(1525.2 498.0) rotate(-90) scale(0.97 1)">C[T&gt;G]C</text><text class="xl" transform="translate(1540.2 498.0) rotate(-90) scale(0.97 1)">C[T&gt;G]G</text><text class="xl" transform="translate(1555.2 498.0) rotate(-90) scale(0.97 1)">C[T&gt;G]T</text><text class="xl" transform="translate(1570.2 498.0) rotate(-90) scale(0.97 1)">G[T&gt;G]A</text><text class="xl" transform="translate(1585.2 498.0) rotate(-90) scale(0.97 1)">G[T&gt;G]C</text><text class="xl" transform="translate(1600.2 498.0) rotate(-90) scale(0.97 1)">G[T&gt;G]G</text><text class="xl" transform="translate(1615.2 498.0) rotate(-90) scale(0.97 1)">G[T&gt;G]T</text><text class="xl" transform="translate(1630.2 498.0) rotate(-90) scale(0.97 1)">T[T&gt;G]A</text><text class="xl" transform="translate(1645.2 498.0) rotate(-90) scale(0.97 1)">T[T&gt;G]C</text><text class="xl" transform="translate(1660.1 498.0) rotate(-90) scale(0.97 1)">T[T&gt;G]G</text><text class="xl" transform="translate(1675.1 498.0) rotate(-90) scale(0.97 1)">T[T&gt;G]T</text>
</g></g>
<g>
<text class="pl" transform="translate(65.5 1290.2) scale(0.825 1)">C</text>
<text class="sl" transform="translate(42.8 1652.4) rotate(-90) scale(0.88 1)" x="-0.6 30.2 68.0 113.2 155.4 174.8 213.3 250.7 290.1">TCGA-BRCA</text>
<g transform="translate(-2.0 1252.8)">
<line x1="242.4" y1="76.9" x2="489.0" y2="76.9" stroke="#03BDEF" stroke-width="3.2" stroke-linecap="round"/><text class="ct" x="365.4" y="74.4">C&gt;A</text>
<line x1="497.3" y1="76.9" x2="728.2" y2="76.9" stroke="#050708" stroke-width="3.2" stroke-linecap="round"/><text class="ct" x="604.3" y="74.4">C&gt;G</text>
<line x1="737.2" y1="76.9" x2="967.8" y2="76.9" stroke="#E62725" stroke-width="3.2" stroke-linecap="round"/><text class="ct" x="843.6" y="74.4">C&gt;T</text>
<line x1="977.0" y1="76.9" x2="1207.0" y2="76.9" stroke="#CBCACB" stroke-width="3.2" stroke-linecap="round"/><text class="ct" x="1083.5" y="74.4">T&gt;A</text>
<line x1="1216.9" y1="76.9" x2="1446.2" y2="76.9" stroke="#A1CF64" stroke-width="3.2" stroke-linecap="round"/><text class="ct" x="1322.6" y="74.4">T&gt;C</text>
<line x1="1456.7" y1="76.9" x2="1685.4" y2="76.9" stroke="#EDC8C5" stroke-width="3.2" stroke-linecap="round"/><text class="ct" x="1561.5" y="74.4">T&gt;G</text>
<rect x="243.16" y="164.6" width="6.05" height="16.7" fill="#CD8500"/><rect x="258.15" y="173.8" width="6.05" height="7.4" fill="#CD8500"/><rect x="273.14" y="181.8" width="6.05" height="0.6" fill="#CD8500" opacity="0.7"/><rect x="288.12" y="166.6" width="6.05" height="14.7" fill="#CD8500"/><rect x="303.12" y="168.6" width="6.05" height="12.7" fill="#CD8500"/><rect x="318.11" y="165.4" width="6.05" height="15.8" fill="#CD8500"/><rect x="333.10" y="179.8" width="6.05" height="1.4" fill="#CD8500"/><rect x="348.09" y="174.2" width="6.05" height="7.0" fill="#CD8500"/><rect x="363.08" y="174.8" width="6.05" height="6.5" fill="#CD8500"/><rect x="378.07" y="168.6" width="6.05" height="12.7" fill="#CD8500"/><rect x="393.06" y="182.9" width="6.05" height="5.3" fill="#BEBEBE"/><rect x="408.05" y="177.8" width="6.05" height="3.4" fill="#CD8500"/><rect x="423.04" y="179.3" width="6.05" height="1.9" fill="#CD8500"/><rect x="453.02" y="182.9" width="6.05" height="1.5" fill="#7D26CD"/><rect x="468.00" y="168.8" width="6.05" height="12.5" fill="#CD8500"/><rect x="483.00" y="151.8" width="6.05" height="29.4" fill="#CD8500"/><rect x="497.99" y="164.8" width="6.05" height="16.5" fill="#CD8500"/><rect x="512.98" y="164.8" width="6.05" height="16.5" fill="#CD8500"/><rect x="527.97" y="158.8" width="6.05" height="22.5" fill="#CD8500"/><rect x="542.96" y="170.2" width="6.05" height="11.0" fill="#CD8500"/><rect x="557.95" y="174.8" width="6.05" height="6.5" fill="#CD8500"/><rect x="572.94" y="172.9" width="6.05" height="8.3" fill="#CD8500"/><rect x="587.93" y="163.7" width="6.05" height="17.6" fill="#CD8500"/><rect x="602.92" y="166.2" width="6.05" height="15.0" fill="#CD8500"/><rect x="617.91" y="170.2" width="6.05" height="11.0" fill="#CD8500"/><rect x="632.90" y="174.4" width="6.05" height="6.8" fill="#CD8500"/><rect x="647.89" y="152.9" width="6.05" height="28.3" fill="#CD8500"/><rect x="662.88" y="136.6" width="6.05" height="44.7" fill="#CD8500"/><rect x="677.87" y="143.7" width="6.05" height="37.6" fill="#CD8500"/><rect x="692.86" y="170.2" width="6.05" height="11.0" fill="#CD8500"/><rect x="707.85" y="139.4" width="6.05" height="41.8" fill="#CD8500"/><rect x="722.84" y="181.9" width="6.05" height="0.6" fill="#CD8500" opacity="0.7"/><rect x="737.83" y="182.9" width="6.05" height="4.0" fill="#7D26CD"/><rect x="752.82" y="182.9" width="6.05" height="106.3" fill="#7D26CD"/><rect x="767.80" y="182.1" width="6.05" height="0.6" fill="#BEBEBE" opacity="0.7"/><rect x="782.79" y="182.9" width="6.05" height="16.1" fill="#BEBEBE"/><rect x="797.78" y="182.9" width="6.05" height="0.8" fill="#7D26CD"/><rect x="812.77" y="182.9" width="6.05" height="82.7" fill="#7D26CD"/><rect x="827.76" y="182.1" width="6.05" height="0.6" fill="#BEBEBE" opacity="0.7"/><rect x="842.75" y="182.9" width="6.05" height="5.5" fill="#7D26CD"/><rect x="857.75" y="182.1" width="6.05" height="0.6" fill="#BEBEBE" opacity="0.7"/><rect x="872.74" y="182.9" width="6.05" height="95.5" fill="#7D26CD"/><rect x="902.72" y="182.9" width="6.05" height="97.1" fill="#7D26CD"/><rect x="917.71" y="182.9" width="6.05" height="33.7" fill="#BEBEBE"/><rect x="932.70" y="182.9" width="6.05" height="100.2" fill="#7D26CD"/><rect x="947.69" y="182.9" width="6.05" height="43.2" fill="#BEBEBE"/><rect x="962.68" y="181.6" width="6.05" height="0.6" fill="#CD8500" opacity="0.7"/><rect x="977.67" y="182.9" width="6.05" height="1.3" fill="#7D26CD"/><rect x="992.66" y="182.9" width="6.05" height="13.0" fill="#BEBEBE"/><rect x="1007.65" y="181.9" width="6.05" height="0.6" fill="#CD8500" opacity="0.7"/><rect x="1022.64" y="178.8" width="6.05" height="2.5" fill="#CD8500"/><rect x="1037.62" y="168.8" width="6.05" height="12.5" fill="#CD8500"/><rect x="1052.62" y="173.7" width="6.05" height="7.6" fill="#CD8500"/><rect x="1067.61" y="162.8" width="6.05" height="18.5" fill="#CD8500"/><rect x="1082.60" y="178.8" width="6.05" height="2.5" fill="#CD8500"/><rect x="1097.59" y="180.1" width="6.05" height="1.2" fill="#CD8500"/><rect x="1112.57" y="182.9" width="6.05" height="3.5" fill="#7D26CD"/><rect x="1127.56" y="180.8" width="6.05" height="0.6" fill="#CD8500" opacity="0.7"/><rect x="1157.54" y="180.8" width="6.05" height="0.6" fill="#CD8500" opacity="0.7"/><rect x="1172.53" y="178.9" width="6.05" height="2.3" fill="#CD8500"/><rect x="1187.52" y="179.8" width="6.05" height="1.4" fill="#CD8500"/><rect x="1202.51" y="181.4" width="6.05" height="0.6" fill="#CD8500" opacity="0.7"/><rect x="1217.50" y="180.4" width="6.05" height="0.8" fill="#CD8500"/><rect x="1232.49" y="182.9" width="6.05" height="21.0" fill="#BEBEBE"/><rect x="1247.48" y="182.9" width="6.05" height="15.5" fill="#BEBEBE"/><rect x="1262.47" y="179.8" width="6.05" height="1.4" fill="#CD8500"/><rect x="1277.46" y="180.9" width="6.05" height="0.6" fill="#CD8500" opacity="0.7"/><rect x="1307.44" y="181.6" width="6.05" height="0.6" fill="#CD8500" opacity="0.7"/><rect x="1322.43" y="178.7" width="6.05" height="2.6" fill="#CD8500"/><rect x="1337.42" y="174.6" width="6.05" height="6.7" fill="#CD8500"/><rect x="1352.41" y="174.6" width="6.05" height="6.7" fill="#CD8500"/><rect x="1367.40" y="182.9" width="6.05" height="0.6" fill="#7D26CD" opacity="0.7"/><rect x="1382.39" y="182.9" width="6.05" height="1.6" fill="#7D26CD"/><rect x="1397.38" y="178.4" width="6.05" height="2.8" fill="#CD8500"/><rect x="1412.38" y="182.9" width="6.05" height="1.1" fill="#7D26CD"/><rect x="1427.37" y="181.9" width="6.05" height="0.6" fill="#CD8500" opacity="0.7"/><rect x="1442.36" y="181.2" width="6.05" height="0.6" fill="#CD8500" opacity="0.7"/><rect x="1457.35" y="176.7" width="6.05" height="4.6" fill="#CD8500"/><rect x="1472.34" y="173.2" width="6.05" height="8.0" fill="#CD8500"/><rect x="1487.33" y="180.4" width="6.05" height="0.8" fill="#CD8500"/><rect x="1502.32" y="181.9" width="6.05" height="0.6" fill="#CD8500" opacity="0.7"/><rect x="1517.31" y="179.2" width="6.05" height="2.1" fill="#CD8500"/><rect x="1532.30" y="173.6" width="6.05" height="7.7" fill="#CD8500"/><rect x="1547.29" y="173.8" width="6.05" height="7.5" fill="#CD8500"/><rect x="1562.28" y="177.2" width="6.05" height="4.1" fill="#CD8500"/><rect x="1577.27" y="180.4" width="6.05" height="0.8" fill="#CD8500"/><rect x="1592.25" y="174.3" width="6.05" height="6.9" fill="#CD8500"/><rect x="1607.24" y="176.7" width="6.05" height="4.6" fill="#CD8500"/><rect x="1622.23" y="180.2" width="6.05" height="1.0" fill="#CD8500"/><rect x="1637.22" y="180.2" width="6.05" height="1.0" fill="#CD8500"/><rect x="1652.21" y="177.7" width="6.05" height="3.6" fill="#CD8500"/><rect x="1667.20" y="178.9" width="6.05" height="2.3" fill="#CD8500"/>
<line x1="184.93" y1="182.25" x2="1745" y2="182.25" stroke="#000" stroke-width="2.3" stroke-linecap="round" stroke-dasharray="0 8.732"/>
<path class="ax" d="M174.2 82.1H185.2V382.8H174.2M174.2 182.3H185.2M174.2 282.6H185.2"/>
<text class="tk" x="164.4" y="93.7">2</text><text class="tk" x="164.4" y="193.9">0</text><text class="tk" x="163.3" y="294.2"><tspan dx="1.3" dy="2.85">−</tspan><tspan dx="-1.3" dy="-2.85">2</tspan></text><text class="tk" x="163.3" y="394.4"><tspan dx="1.3" dy="2.85">−</tspan><tspan dx="-1.3" dy="-2.85">4</tspan></text>
<text transform="translate(120.2 274.6) rotate(-90)" font-size="30.8">Δ</text>
<path class="ax" d="M246.18 482.3H1670.23M246.2 482.3v11.15M261.2 482.3v11.15M276.2 482.3v11.15M291.1 482.3v11.15M306.1 482.3v11.15M321.1 482.3v11.15M336.1 482.3v11.15M351.1 482.3v11.15M366.1 482.3v11.15M381.1 482.3v11.15M396.1 482.3v11.15M411.1 482.3v11.15M426.1 482.3v11.15M441.1 482.3v11.15M456.0 482.3v11.15M471.0 482.3v11.15M486.0 482.3v11.15M501.0 482.3v11.15M516.0 482.3v11.15M531.0 482.3v11.15M546.0 482.3v11.15M561.0 482.3v11.15M576.0 482.3v11.15M591.0 482.3v11.15M605.9 482.3v11.15M620.9 482.3v11.15M635.9 482.3v11.15M650.9 482.3v11.15M665.9 482.3v11.15M680.9 482.3v11.15M695.9 482.3v11.15M710.9 482.3v11.15M725.9 482.3v11.15M740.9 482.3v11.15M755.8 482.3v11.15M770.8 482.3v11.15M785.8 482.3v11.15M800.8 482.3v11.15M815.8 482.3v11.15M830.8 482.3v11.15M845.8 482.3v11.15M860.8 482.3v11.15M875.8 482.3v11.15M890.8 482.3v11.15M905.7 482.3v11.15M920.7 482.3v11.15M935.7 482.3v11.15M950.7 482.3v11.15M965.7 482.3v11.15M980.7 482.3v11.15M995.7 482.3v11.15M1010.7 482.3v11.15M1025.7 482.3v11.15M1040.7 482.3v11.15M1055.6 482.3v11.15M1070.6 482.3v11.15M1085.6 482.3v11.15M1100.6 482.3v11.15M1115.6 482.3v11.15M1130.6 482.3v11.15M1145.6 482.3v11.15M1160.6 482.3v11.15M1175.6 482.3v11.15M1190.5 482.3v11.15M1205.5 482.3v11.15M1220.5 482.3v11.15M1235.5 482.3v11.15M1250.5 482.3v11.15M1265.5 482.3v11.15M1280.5 482.3v11.15M1295.5 482.3v11.15M1310.5 482.3v11.15M1325.5 482.3v11.15M1340.5 482.3v11.15M1355.4 482.3v11.15M1370.4 482.3v11.15M1385.4 482.3v11.15M1400.4 482.3v11.15M1415.4 482.3v11.15M1430.4 482.3v11.15M1445.4 482.3v11.15M1460.4 482.3v11.15M1475.4 482.3v11.15M1490.4 482.3v11.15M1505.3 482.3v11.15M1520.3 482.3v11.15M1535.3 482.3v11.15M1550.3 482.3v11.15M1565.3 482.3v11.15M1580.3 482.3v11.15M1595.3 482.3v11.15M1610.3 482.3v11.15M1625.3 482.3v11.15M1640.2 482.3v11.15M1655.2 482.3v11.15M1670.2 482.3v11.15"/>
<text class="xl" transform="translate(251.1 498.0) rotate(-90) scale(0.97 1)">A[C&gt;A]A</text><text class="xl" transform="translate(266.1 498.0) rotate(-90) scale(0.97 1)">A[C&gt;A]C</text><text class="xl" transform="translate(281.1 498.0) rotate(-90) scale(0.97 1)">A[C&gt;A]G</text><text class="xl" transform="translate(296.0 498.0) rotate(-90) scale(0.97 1)">A[C&gt;A]T</text><text class="xl" transform="translate(311.0 498.0) rotate(-90) scale(0.97 1)">C[C&gt;A]A</text><text class="xl" transform="translate(326.0 498.0) rotate(-90) scale(0.97 1)">C[C&gt;A]C</text><text class="xl" transform="translate(341.0 498.0) rotate(-90) scale(0.97 1)">C[C&gt;A]G</text><text class="xl" transform="translate(356.0 498.0) rotate(-90) scale(0.97 1)">C[C&gt;A]T</text><text class="xl" transform="translate(371.0 498.0) rotate(-90) scale(0.97 1)">G[C&gt;A]A</text><text class="xl" transform="translate(386.0 498.0) rotate(-90) scale(0.97 1)">G[C&gt;A]C</text><text class="xl" transform="translate(401.0 498.0) rotate(-90) scale(0.97 1)">G[C&gt;A]G</text><text class="xl" transform="translate(416.0 498.0) rotate(-90) scale(0.97 1)">G[C&gt;A]T</text><text class="xl" transform="translate(431.0 498.0) rotate(-90) scale(0.97 1)">T[C&gt;A]A</text><text class="xl" transform="translate(445.9 498.0) rotate(-90) scale(0.97 1)">T[C&gt;A]C</text><text class="xl" transform="translate(460.9 498.0) rotate(-90) scale(0.97 1)">T[C&gt;A]G</text><text class="xl" transform="translate(475.9 498.0) rotate(-90) scale(0.97 1)">T[C&gt;A]T</text><text class="xl" transform="translate(490.9 498.0) rotate(-90) scale(0.97 1)">A[C&gt;G]A</text><text class="xl" transform="translate(505.9 498.0) rotate(-90) scale(0.97 1)">A[C&gt;G]C</text><text class="xl" transform="translate(520.9 498.0) rotate(-90) scale(0.97 1)">A[C&gt;G]G</text><text class="xl" transform="translate(535.9 498.0) rotate(-90) scale(0.97 1)">A[C&gt;G]T</text><text class="xl" transform="translate(550.9 498.0) rotate(-90) scale(0.97 1)">C[C&gt;G]A</text><text class="xl" transform="translate(565.9 498.0) rotate(-90) scale(0.97 1)">C[C&gt;G]C</text><text class="xl" transform="translate(580.9 498.0) rotate(-90) scale(0.97 1)">C[C&gt;G]G</text><text class="xl" transform="translate(595.9 498.0) rotate(-90) scale(0.97 1)">C[C&gt;G]T</text><text class="xl" transform="translate(610.8 498.0) rotate(-90) scale(0.97 1)">G[C&gt;G]A</text><text class="xl" transform="translate(625.8 498.0) rotate(-90) scale(0.97 1)">G[C&gt;G]C</text><text class="xl" transform="translate(640.8 498.0) rotate(-90) scale(0.97 1)">G[C&gt;G]G</text><text class="xl" transform="translate(655.8 498.0) rotate(-90) scale(0.97 1)">G[C&gt;G]T</text><text class="xl" transform="translate(670.8 498.0) rotate(-90) scale(0.97 1)">T[C&gt;G]A</text><text class="xl" transform="translate(685.8 498.0) rotate(-90) scale(0.97 1)">T[C&gt;G]C</text><text class="xl" transform="translate(700.8 498.0) rotate(-90) scale(0.97 1)">T[C&gt;G]G</text><text class="xl" transform="translate(715.8 498.0) rotate(-90) scale(0.97 1)">T[C&gt;G]T</text><text class="xl" transform="translate(730.8 498.0) rotate(-90) scale(0.97 1)">A[C&gt;T]A</text><text class="xl" transform="translate(745.8 498.0) rotate(-90) scale(0.97 1)">A[C&gt;T]C</text><text class="xl" transform="translate(760.7 498.0) rotate(-90) scale(0.97 1)">A[C&gt;T]G</text><text class="xl" transform="translate(775.7 498.0) rotate(-90) scale(0.97 1)">A[C&gt;T]T</text><text class="xl" transform="translate(790.7 498.0) rotate(-90) scale(0.97 1)">C[C&gt;T]A</text><text class="xl" transform="translate(805.7 498.0) rotate(-90) scale(0.97 1)">C[C&gt;T]C</text><text class="xl" transform="translate(820.7 498.0) rotate(-90) scale(0.97 1)">C[C&gt;T]G</text><text class="xl" transform="translate(835.7 498.0) rotate(-90) scale(0.97 1)">C[C&gt;T]T</text><text class="xl" transform="translate(850.7 498.0) rotate(-90) scale(0.97 1)">G[C&gt;T]A</text><text class="xl" transform="translate(865.7 498.0) rotate(-90) scale(0.97 1)">G[C&gt;T]C</text><text class="xl" transform="translate(880.7 498.0) rotate(-90) scale(0.97 1)">G[C&gt;T]G</text><text class="xl" transform="translate(895.6 498.0) rotate(-90) scale(0.97 1)">G[C&gt;T]T</text><text class="xl" transform="translate(910.6 498.0) rotate(-90) scale(0.97 1)">T[C&gt;T]A</text><text class="xl" transform="translate(925.6 498.0) rotate(-90) scale(0.97 1)">T[C&gt;T]C</text><text class="xl" transform="translate(940.6 498.0) rotate(-90) scale(0.97 1)">T[C&gt;T]G</text><text class="xl" transform="translate(955.6 498.0) rotate(-90) scale(0.97 1)">T[C&gt;T]T</text><text class="xl" transform="translate(970.6 498.0) rotate(-90) scale(0.97 1)">A[T&gt;A]A</text><text class="xl" transform="translate(985.6 498.0) rotate(-90) scale(0.97 1)">A[T&gt;A]C</text><text class="xl" transform="translate(1000.6 498.0) rotate(-90) scale(0.97 1)">A[T&gt;A]G</text><text class="xl" transform="translate(1015.6 498.0) rotate(-90) scale(0.97 1)">A[T&gt;A]T</text><text class="xl" transform="translate(1030.6 498.0) rotate(-90) scale(0.97 1)">C[T&gt;A]A</text><text class="xl" transform="translate(1045.6 498.0) rotate(-90) scale(0.97 1)">C[T&gt;A]C</text><text class="xl" transform="translate(1060.5 498.0) rotate(-90) scale(0.97 1)">C[T&gt;A]G</text><text class="xl" transform="translate(1075.5 498.0) rotate(-90) scale(0.97 1)">C[T&gt;A]T</text><text class="xl" transform="translate(1090.5 498.0) rotate(-90) scale(0.97 1)">G[T&gt;A]A</text><text class="xl" transform="translate(1105.5 498.0) rotate(-90) scale(0.97 1)">G[T&gt;A]C</text><text class="xl" transform="translate(1120.5 498.0) rotate(-90) scale(0.97 1)">G[T&gt;A]G</text><text class="xl" transform="translate(1135.5 498.0) rotate(-90) scale(0.97 1)">G[T&gt;A]T</text><text class="xl" transform="translate(1150.5 498.0) rotate(-90) scale(0.97 1)">T[T&gt;A]A</text><text class="xl" transform="translate(1165.5 498.0) rotate(-90) scale(0.97 1)">T[T&gt;A]C</text><text class="xl" transform="translate(1180.5 498.0) rotate(-90) scale(0.97 1)">T[T&gt;A]G</text><text class="xl" transform="translate(1195.5 498.0) rotate(-90) scale(0.97 1)">T[T&gt;A]T</text><text class="xl" transform="translate(1210.4 498.0) rotate(-90) scale(0.97 1)">A[T&gt;C]A</text><text class="xl" transform="translate(1225.4 498.0) rotate(-90) scale(0.97 1)">A[T&gt;C]C</text><text class="xl" transform="translate(1240.4 498.0) rotate(-90) scale(0.97 1)">A[T&gt;C]G</text><text class="xl" transform="translate(1255.4 498.0) rotate(-90) scale(0.97 1)">A[T&gt;C]T</text><text class="xl" transform="translate(1270.4 498.0) rotate(-90) scale(0.97 1)">C[T&gt;C]A</text><text class="xl" transform="translate(1285.4 498.0) rotate(-90) scale(0.97 1)">C[T&gt;C]C</text><text class="xl" transform="translate(1300.4 498.0) rotate(-90) scale(0.97 1)">C[T&gt;C]G</text><text class="xl" transform="translate(1315.4 498.0) rotate(-90) scale(0.97 1)">C[T&gt;C]T</text><text class="xl" transform="translate(1330.4 498.0) rotate(-90) scale(0.97 1)">G[T&gt;C]A</text><text class="xl" transform="translate(1345.4 498.0) rotate(-90) scale(0.97 1)">G[T&gt;C]C</text><text class="xl" transform="translate(1360.3 498.0) rotate(-90) scale(0.97 1)">G[T&gt;C]G</text><text class="xl" transform="translate(1375.3 498.0) rotate(-90) scale(0.97 1)">G[T&gt;C]T</text><text class="xl" transform="translate(1390.3 498.0) rotate(-90) scale(0.97 1)">T[T&gt;C]A</text><text class="xl" transform="translate(1405.3 498.0) rotate(-90) scale(0.97 1)">T[T&gt;C]C</text><text class="xl" transform="translate(1420.3 498.0) rotate(-90) scale(0.97 1)">T[T&gt;C]G</text><text class="xl" transform="translate(1435.3 498.0) rotate(-90) scale(0.97 1)">T[T&gt;C]T</text><text class="xl" transform="translate(1450.3 498.0) rotate(-90) scale(0.97 1)">A[T&gt;G]A</text><text class="xl" transform="translate(1465.3 498.0) rotate(-90) scale(0.97 1)">A[T&gt;G]C</text><text class="xl" transform="translate(1480.3 498.0) rotate(-90) scale(0.97 1)">A[T&gt;G]G</text><text class="xl" transform="translate(1495.3 498.0) rotate(-90) scale(0.97 1)">A[T&gt;G]T</text><text class="xl" transform="translate(1510.2 498.0) rotate(-90) scale(0.97 1)">C[T&gt;G]A</text><text class="xl" transform="translate(1525.2 498.0) rotate(-90) scale(0.97 1)">C[T&gt;G]C</text><text class="xl" transform="translate(1540.2 498.0) rotate(-90) scale(0.97 1)">C[T&gt;G]G</text><text class="xl" transform="translate(1555.2 498.0) rotate(-90) scale(0.97 1)">C[T&gt;G]T</text><text class="xl" transform="translate(1570.2 498.0) rotate(-90) scale(0.97 1)">G[T&gt;G]A</text><text class="xl" transform="translate(1585.2 498.0) rotate(-90) scale(0.97 1)">G[T&gt;G]C</text><text class="xl" transform="translate(1600.2 498.0) rotate(-90) scale(0.97 1)">G[T&gt;G]G</text><text class="xl" transform="translate(1615.2 498.0) rotate(-90) scale(0.97 1)">G[T&gt;G]T</text><text class="xl" transform="translate(1630.2 498.0) rotate(-90) scale(0.97 1)">T[T&gt;G]A</text><text class="xl" transform="translate(1645.2 498.0) rotate(-90) scale(0.97 1)">T[T&gt;G]C</text><text class="xl" transform="translate(1660.1 498.0) rotate(-90) scale(0.97 1)">T[T&gt;G]G</text><text class="xl" transform="translate(1675.1 498.0) rotate(-90) scale(0.97 1)">T[T&gt;G]T</text>
</g></g>
<g>
<text class="pl" transform="translate(62.0 1919.0) scale(0.98 1)">D</text>
<text class="sl" transform="translate(42.8 2335.5) rotate(-90) scale(0.88 1)" x="-0.6 30.2 68.0 113.2 155.4 175.5 208.6 252.2 293.5 332.6 376.6 425.7">TCGA-PANCAN*</text>
<g transform="translate(0.0 1871.2)">
<line x1="242.4" y1="76.9" x2="489.0" y2="76.9" stroke="#03BDEF" stroke-width="3.2" stroke-linecap="round"/><text class="ct" x="365.4" y="74.4">C&gt;A</text>
<line x1="497.3" y1="76.9" x2="728.2" y2="76.9" stroke="#050708" stroke-width="3.2" stroke-linecap="round"/><text class="ct" x="604.3" y="74.4">C&gt;G</text>
<line x1="737.2" y1="76.9" x2="967.8" y2="76.9" stroke="#E62725" stroke-width="3.2" stroke-linecap="round"/><text class="ct" x="843.6" y="74.4">C&gt;T</text>
<line x1="977.0" y1="76.9" x2="1207.0" y2="76.9" stroke="#CBCACB" stroke-width="3.2" stroke-linecap="round"/><text class="ct" x="1083.5" y="74.4">T&gt;A</text>
<line x1="1216.9" y1="76.9" x2="1446.2" y2="76.9" stroke="#A1CF64" stroke-width="3.2" stroke-linecap="round"/><text class="ct" x="1322.6" y="74.4">T&gt;C</text>
<line x1="1456.7" y1="76.9" x2="1685.4" y2="76.9" stroke="#EDC8C5" stroke-width="3.2" stroke-linecap="round"/><text class="ct" x="1561.5" y="74.4">T&gt;G</text>
<rect x="243.16" y="165.7" width="6.05" height="15.6" fill="#CD8500"/><rect x="258.15" y="167.7" width="6.05" height="13.6" fill="#CD8500"/><rect x="273.14" y="168.6" width="6.05" height="12.7" fill="#CD8500"/><rect x="288.12" y="167.7" width="6.05" height="13.6" fill="#CD8500"/><rect x="303.12" y="156.6" width="6.05" height="24.7" fill="#CD8500"/><rect x="318.11" y="154.9" width="6.05" height="26.3" fill="#CD8500"/><rect x="333.10" y="177.6" width="6.05" height="3.7" fill="#CD8500"/><rect x="348.09" y="160.9" width="6.05" height="20.3" fill="#CD8500"/><rect x="363.08" y="163.8" width="6.05" height="17.4" fill="#CD8500"/><rect x="378.07" y="157.7" width="6.05" height="23.6" fill="#CD8500"/><rect x="393.06" y="168.1" width="6.05" height="13.2" fill="#CD8500"/><rect x="408.05" y="166.6" width="6.05" height="14.7" fill="#CD8500"/><rect x="423.04" y="160.6" width="6.05" height="20.7" fill="#CD8500"/><rect x="438.03" y="144.8" width="6.05" height="36.5" fill="#CD8500"/><rect x="453.02" y="175.2" width="6.05" height="6.1" fill="#CD8500"/><rect x="468.00" y="164.6" width="6.05" height="16.7" fill="#CD8500"/><rect x="483.00" y="177.6" width="6.05" height="3.7" fill="#CD8500"/><rect x="497.99" y="181.2" width="6.05" height="0.6" fill="#CD8500" opacity="0.7"/><rect x="512.98" y="176.9" width="6.05" height="4.3" fill="#CD8500"/><rect x="527.97" y="180.8" width="6.05" height="0.6" fill="#CD8500" opacity="0.7"/><rect x="542.96" y="176.2" width="6.05" height="5.0" fill="#CD8500"/><rect x="557.95" y="178.2" width="6.05" height="3.0" fill="#CD8500"/><rect x="572.94" y="178.4" width="6.05" height="2.8" fill="#CD8500"/><rect x="587.93" y="172.8" width="6.05" height="8.5" fill="#CD8500"/><rect x="602.92" y="177.8" width="6.05" height="3.4" fill="#CD8500"/><rect x="617.91" y="178.8" width="6.05" height="2.5" fill="#CD8500"/><rect x="632.90" y="178.2" width="6.05" height="3.0" fill="#CD8500"/><rect x="647.89" y="175.6" width="6.05" height="5.7" fill="#CD8500"/><rect x="662.88" y="109.5" width="6.05" height="71.7" fill="#CD8500"/><rect x="677.87" y="154.1" width="6.05" height="27.2" fill="#CD8500"/><rect x="692.86" y="169.7" width="6.05" height="11.6" fill="#CD8500"/><rect x="707.85" y="82.0" width="6.05" height="99.2" fill="#CD8500"/><rect x="722.84" y="182.9" width="6.05" height="12.2" fill="#7D26CD"/><rect x="737.83" y="182.9" width="6.05" height="19.3" fill="#7D26CD"/><rect x="752.82" y="182.9" width="6.05" height="136.5" fill="#7D26CD"/><rect x="767.80" y="182.9" width="6.05" height="5.3" fill="#7D26CD"/><rect x="782.79" y="182.9" width="6.05" height="4.0" fill="#7D26CD"/><rect x="797.78" y="182.9" width="6.05" height="20.1" fill="#7D26CD"/><rect x="812.77" y="182.9" width="6.05" height="85.1" fill="#7D26CD"/><rect x="827.76" y="182.9" width="6.05" height="6.8" fill="#7D26CD"/><rect x="842.75" y="182.9" width="6.05" height="12.2" fill="#7D26CD"/><rect x="857.75" y="182.9" width="6.05" height="52.5" fill="#7D26CD"/><rect x="872.74" y="182.9" width="6.05" height="136.5" fill="#7D26CD"/><rect x="887.73" y="182.9" width="6.05" height="15.9" fill="#7D26CD"/><rect x="902.72" y="137.9" width="6.05" height="43.3" fill="#CD8500"/><rect x="917.71" y="182.9" width="6.05" height="16.6" fill="#7D26CD"/><rect x="932.70" y="182.9" width="6.05" height="51.2" fill="#7D26CD"/><rect x="947.69" y="160.9" width="6.05" height="20.3" fill="#CD8500"/><rect x="962.68" y="182.9" width="6.05" height="0.6" fill="#7D26CD" opacity="0.7"/><rect x="977.67" y="182.9" width="6.05" height="1.3" fill="#7D26CD"/><rect x="992.66" y="178.9" width="6.05" height="2.3" fill="#CD8500"/><rect x="1022.64" y="182.9" width="6.05" height="11.5" fill="#7D26CD"/><rect x="1037.62" y="175.6" width="6.05" height="5.7" fill="#CD8500"/><rect x="1052.62" y="170.9" width="6.05" height="10.3" fill="#CD8500"/><rect x="1067.61" y="173.7" width="6.05" height="7.6" fill="#CD8500"/><rect x="1097.59" y="178.2" width="6.05" height="3.0" fill="#CD8500"/><rect x="1112.57" y="182.9" width="6.05" height="19.3" fill="#7D26CD"/><rect x="1127.56" y="179.6" width="6.05" height="1.7" fill="#CD8500"/><rect x="1157.54" y="179.6" width="6.05" height="1.7" fill="#CD8500"/><rect x="1172.53" y="181.2" width="6.05" height="0.6" fill="#CD8500" opacity="0.7"/><rect x="1187.52" y="180.8" width="6.05" height="0.6" fill="#CD8500" opacity="0.7"/><rect x="1202.51" y="182.9" width="6.05" height="1.3" fill="#7D26CD"/><rect x="1217.50" y="182.9" width="6.05" height="9.3" fill="#7D26CD"/><rect x="1232.49" y="182.9" width="6.05" height="8.8" fill="#7D26CD"/><rect x="1247.48" y="182.9" width="6.05" height="17.0" fill="#7D26CD"/><rect x="1262.47" y="182.9" width="6.05" height="0.6" fill="#7D26CD" opacity="0.7"/><rect x="1277.46" y="182.9" width="6.05" height="5.3" fill="#7D26CD"/><rect x="1292.45" y="182.9" width="6.05" height="9.5" fill="#7D26CD"/><rect x="1307.44" y="182.9" width="6.05" height="0.6" fill="#7D26CD" opacity="0.7"/><rect x="1322.43" y="182.9" width="6.05" height="1.9" fill="#7D26CD"/><rect x="1337.42" y="182.9" width="6.05" height="8.8" fill="#7D26CD"/><rect x="1352.41" y="182.9" width="6.05" height="3.9" fill="#7D26CD"/><rect x="1367.40" y="182.9" width="6.05" height="10.3" fill="#7D26CD"/><rect x="1382.39" y="182.9" width="6.05" height="0.6" fill="#7D26CD" opacity="0.7"/><rect x="1397.38" y="182.9" width="6.05" height="4.9" fill="#7D26CD"/><rect x="1412.38" y="182.9" width="6.05" height="2.4" fill="#7D26CD"/><rect x="1427.37" y="182.9" width="6.05" height="3.7" fill="#7D26CD"/><rect x="1457.35" y="182.9" width="6.05" height="2.4" fill="#7D26CD"/><rect x="1487.33" y="182.9" width="6.05" height="2.1" fill="#7D26CD"/><rect x="1532.30" y="178.4" width="6.05" height="2.8" fill="#CD8500"/><rect x="1547.29" y="157.7" width="6.05" height="23.6" fill="#CD8500"/><rect x="1577.27" y="182.9" width="6.05" height="0.6" fill="#7D26CD"/><rect x="1592.25" y="181.2" width="6.05" height="0.6" fill="#CD8500" opacity="0.7"/><rect x="1607.24" y="176.2" width="6.05" height="5.1" fill="#CD8500"/><rect x="1637.22" y="182.9" width="6.05" height="0.8" fill="#7D26CD"/><rect x="1652.21" y="182.9" width="6.05" height="0.6" fill="#7D26CD" opacity="0.7"/><rect x="1667.20" y="182.9" width="6.05" height="0.6" fill="#7D26CD"/>
<line x1="184.93" y1="182.25" x2="1745" y2="182.25" stroke="#000" stroke-width="2.3" stroke-linecap="round" stroke-dasharray="0 8.732"/>
<path class="ax" d="M174.2 82.1H185.2V382.8H174.2M174.2 182.3H185.2M174.2 282.6H185.2"/>
<text class="tk" x="164.4" y="93.7">2</text><text class="tk" x="164.4" y="193.9">0</text><text class="tk" x="163.3" y="294.2"><tspan dx="1.3" dy="2.85">−</tspan><tspan dx="-1.3" dy="-2.85">2</tspan></text><text class="tk" x="163.3" y="394.4"><tspan dx="1.3" dy="2.85">−</tspan><tspan dx="-1.3" dy="-2.85">4</tspan></text>
<text transform="translate(120.2 274.6) rotate(-90)" font-size="30.8">Δ</text>
<path class="ax" d="M246.18 482.3H1670.23M246.2 482.3v11.15M261.2 482.3v11.15M276.2 482.3v11.15M291.1 482.3v11.15M306.1 482.3v11.15M321.1 482.3v11.15M336.1 482.3v11.15M351.1 482.3v11.15M366.1 482.3v11.15M381.1 482.3v11.15M396.1 482.3v11.15M411.1 482.3v11.15M426.1 482.3v11.15M441.1 482.3v11.15M456.0 482.3v11.15M471.0 482.3v11.15M486.0 482.3v11.15M501.0 482.3v11.15M516.0 482.3v11.15M531.0 482.3v11.15M546.0 482.3v11.15M561.0 482.3v11.15M576.0 482.3v11.15M591.0 482.3v11.15M605.9 482.3v11.15M620.9 482.3v11.15M635.9 482.3v11.15M650.9 482.3v11.15M665.9 482.3v11.15M680.9 482.3v11.15M695.9 482.3v11.15M710.9 482.3v11.15M725.9 482.3v11.15M740.9 482.3v11.15M755.8 482.3v11.15M770.8 482.3v11.15M785.8 482.3v11.15M800.8 482.3v11.15M815.8 482.3v11.15M830.8 482.3v11.15M845.8 482.3v11.15M860.8 482.3v11.15M875.8 482.3v11.15M890.8 482.3v11.15M905.7 482.3v11.15M920.7 482.3v11.15M935.7 482.3v11.15M950.7 482.3v11.15M965.7 482.3v11.15M980.7 482.3v11.15M995.7 482.3v11.15M1010.7 482.3v11.15M1025.7 482.3v11.15M1040.7 482.3v11.15M1055.6 482.3v11.15M1070.6 482.3v11.15M1085.6 482.3v11.15M1100.6 482.3v11.15M1115.6 482.3v11.15M1130.6 482.3v11.15M1145.6 482.3v11.15M1160.6 482.3v11.15M1175.6 482.3v11.15M1190.5 482.3v11.15M1205.5 482.3v11.15M1220.5 482.3v11.15M1235.5 482.3v11.15M1250.5 482.3v11.15M1265.5 482.3v11.15M1280.5 482.3v11.15M1295.5 482.3v11.15M1310.5 482.3v11.15M1325.5 482.3v11.15M1340.5 482.3v11.15M1355.4 482.3v11.15M1370.4 482.3v11.15M1385.4 482.3v11.15M1400.4 482.3v11.15M1415.4 482.3v11.15M1430.4 482.3v11.15M1445.4 482.3v11.15M1460.4 482.3v11.15M1475.4 482.3v11.15M1490.4 482.3v11.15M1505.3 482.3v11.15M1520.3 482.3v11.15M1535.3 482.3v11.15M1550.3 482.3v11.15M1565.3 482.3v11.15M1580.3 482.3v11.15M1595.3 482.3v11.15M1610.3 482.3v11.15M1625.3 482.3v11.15M1640.2 482.3v11.15M1655.2 482.3v11.15M1670.2 482.3v11.15"/>
<text class="xl" transform="translate(251.1 498.0) rotate(-90) scale(0.97 1)">A[C&gt;A]A</text><text class="xl" transform="translate(266.1 498.0) rotate(-90) scale(0.97 1)">A[C&gt;A]C</text><text class="xl" transform="translate(281.1 498.0) rotate(-90) scale(0.97 1)">A[C&gt;A]G</text><text class="xl" transform="translate(296.0 498.0) rotate(-90) scale(0.97 1)">A[C&gt;A]T</text><text class="xl" transform="translate(311.0 498.0) rotate(-90) scale(0.97 1)">C[C&gt;A]A</text><text class="xl" transform="translate(326.0 498.0) rotate(-90) scale(0.97 1)">C[C&gt;A]C</text><text class="xl" transform="translate(341.0 498.0) rotate(-90) scale(0.97 1)">C[C&gt;A]G</text><text class="xl" transform="translate(356.0 498.0) rotate(-90) scale(0.97 1)">C[C&gt;A]T</text><text class="xl" transform="translate(371.0 498.0) rotate(-90) scale(0.97 1)">G[C&gt;A]A</text><text class="xl" transform="translate(386.0 498.0) rotate(-90) scale(0.97 1)">G[C&gt;A]C</text><text class="xl" transform="translate(401.0 498.0) rotate(-90) scale(0.97 1)">G[C&gt;A]G</text><text class="xl" transform="translate(416.0 498.0) rotate(-90) scale(0.97 1)">G[C&gt;A]T</text><text class="xl" transform="translate(431.0 498.0) rotate(-90) scale(0.97 1)">T[C&gt;A]A</text><text class="xl" transform="translate(445.9 498.0) rotate(-90) scale(0.97 1)">T[C&gt;A]C</text><text class="xl" transform="translate(460.9 498.0) rotate(-90) scale(0.97 1)">T[C&gt;A]G</text><text class="xl" transform="translate(475.9 498.0) rotate(-90) scale(0.97 1)">T[C&gt;A]T</text><text class="xl" transform="translate(490.9 498.0) rotate(-90) scale(0.97 1)">A[C&gt;G]A</text><text class="xl" transform="translate(505.9 498.0) rotate(-90) scale(0.97 1)">A[C&gt;G]C</text><text class="xl" transform="translate(520.9 498.0) rotate(-90) scale(0.97 1)">A[C&gt;G]G</text><text class="xl" transform="translate(535.9 498.0) rotate(-90) scale(0.97 1)">A[C&gt;G]T</text><text class="xl" transform="translate(550.9 498.0) rotate(-90) scale(0.97 1)">C[C&gt;G]A</text><text class="xl" transform="translate(565.9 498.0) rotate(-90) scale(0.97 1)">C[C&gt;G]C</text><text class="xl" transform="translate(580.9 498.0) rotate(-90) scale(0.97 1)">C[C&gt;G]G</text><text class="xl" transform="translate(595.9 498.0) rotate(-90) scale(0.97 1)">C[C&gt;G]T</text><text class="xl" transform="translate(610.8 498.0) rotate(-90) scale(0.97 1)">G[C&gt;G]A</text><text class="xl" transform="translate(625.8 498.0) rotate(-90) scale(0.97 1)">G[C&gt;G]C</text><text class="xl" transform="translate(640.8 498.0) rotate(-90) scale(0.97 1)">G[C&gt;G]G</text><text class="xl" transform="translate(655.8 498.0) rotate(-90) scale(0.97 1)">G[C&gt;G]T</text><text class="xl" transform="translate(670.8 498.0) rotate(-90) scale(0.97 1)">T[C&gt;G]A</text><text class="xl" transform="translate(685.8 498.0) rotate(-90) scale(0.97 1)">T[C&gt;G]C</text><text class="xl" transform="translate(700.8 498.0) rotate(-90) scale(0.97 1)">T[C&gt;G]G</text><text class="xl" transform="translate(715.8 498.0) rotate(-90) scale(0.97 1)">T[C&gt;G]T</text><text class="xl" transform="translate(730.8 498.0) rotate(-90) scale(0.97 1)">A[C&gt;T]A</text><text class="xl" transform="translate(745.8 498.0) rotate(-90) scale(0.97 1)">A[C&gt;T]C</text><text class="xl" transform="translate(760.7 498.0) rotate(-90) scale(0.97 1)">A[C&gt;T]G</text><text class="xl" transform="translate(775.7 498.0) rotate(-90) scale(0.97 1)">A[C&gt;T]T</text><text class="xl" transform="translate(790.7 498.0) rotate(-90) scale(0.97 1)">C[C&gt;T]A</text><text class="xl" transform="translate(805.7 498.0) rotate(-90) scale(0.97 1)">C[C&gt;T]C</text><text class="xl" transform="translate(820.7 498.0) rotate(-90) scale(0.97 1)">C[C&gt;T]G</text><text class="xl" transform="translate(835.7 498.0) rotate(-90) scale(0.97 1)">C[C&gt;T]T</text><text class="xl" transform="translate(850.7 498.0) rotate(-90) scale(0.97 1)">G[C&gt;T]A</text><text class="xl" transform="translate(865.7 498.0) rotate(-90) scale(0.97 1)">G[C&gt;T]C</text><text class="xl" transform="translate(880.7 498.0) rotate(-90) scale(0.97 1)">G[C&gt;T]G</text><text class="xl" transform="translate(895.6 498.0) rotate(-90) scale(0.97 1)">G[C&gt;T]T</text><text class="xl" transform="translate(910.6 498.0) rotate(-90) scale(0.97 1)">T[C&gt;T]A</text><text class="xl" transform="translate(925.6 498.0) rotate(-90) scale(0.97 1)">T[C&gt;T]C</text><text class="xl" transform="translate(940.6 498.0) rotate(-90) scale(0.97 1)">T[C&gt;T]G</text><text class="xl" transform="translate(955.6 498.0) rotate(-90) scale(0.97 1)">T[C&gt;T]T</text><text class="xl" transform="translate(970.6 498.0) rotate(-90) scale(0.97 1)">A[T&gt;A]A</text><text class="xl" transform="translate(985.6 498.0) rotate(-90) scale(0.97 1)">A[T&gt;A]C</text><text class="xl" transform="translate(1000.6 498.0) rotate(-90) scale(0.97 1)">A[T&gt;A]G</text><text class="xl" transform="translate(1015.6 498.0) rotate(-90) scale(0.97 1)">A[T&gt;A]T</text><text class="xl" transform="translate(1030.6 498.0) rotate(-90) scale(0.97 1)">C[T&gt;A]A</text><text class="xl" transform="translate(1045.6 498.0) rotate(-90) scale(0.97 1)">C[T&gt;A]C</text><text class="xl" transform="translate(1060.5 498.0) rotate(-90) scale(0.97 1)">C[T&gt;A]G</text><text class="xl" transform="translate(1075.5 498.0) rotate(-90) scale(0.97 1)">C[T&gt;A]T</text><text class="xl" transform="translate(1090.5 498.0) rotate(-90) scale(0.97 1)">G[T&gt;A]A</text><text class="xl" transform="translate(1105.5 498.0) rotate(-90) scale(0.97 1)">G[T&gt;A]C</text><text class="xl" transform="translate(1120.5 498.0) rotate(-90) scale(0.97 1)">G[T&gt;A]G</text><text class="xl" transform="translate(1135.5 498.0) rotate(-90) scale(0.97 1)">G[T&gt;A]T</text><text class="xl" transform="translate(1150.5 498.0) rotate(-90) scale(0.97 1)">T[T&gt;A]A</text><text class="xl" transform="translate(1165.5 498.0) rotate(-90) scale(0.97 1)">T[T&gt;A]C</text><text class="xl" transform="translate(1180.5 498.0) rotate(-90) scale(0.97 1)">T[T&gt;A]G</text><text class="xl" transform="translate(1195.5 498.0) rotate(-90) scale(0.97 1)">T[T&gt;A]T</text><text class="xl" transform="translate(1210.4 498.0) rotate(-90) scale(0.97 1)">A[T&gt;C]A</text><text class="xl" transform="translate(1225.4 498.0) rotate(-90) scale(0.97 1)">A[T&gt;C]C</text><text class="xl" transform="translate(1240.4 498.0) rotate(-90) scale(0.97 1)">A[T&gt;C]G</text><text class="xl" transform="translate(1255.4 498.0) rotate(-90) scale(0.97 1)">A[T&gt;C]T</text><text class="xl" transform="translate(1270.4 498.0) rotate(-90) scale(0.97 1)">C[T&gt;C]A</text><text class="xl" transform="translate(1285.4 498.0) rotate(-90) scale(0.97 1)">C[T&gt;C]C</text><text class="xl" transform="translate(1300.4 498.0) rotate(-90) scale(0.97 1)">C[T&gt;C]G</text><text class="xl" transform="translate(1315.4 498.0) rotate(-90) scale(0.97 1)">C[T&gt;C]T</text><text class="xl" transform="translate(1330.4 498.0) rotate(-90) scale(0.97 1)">G[T&gt;C]A</text><text class="xl" transform="translate(1345.4 498.0) rotate(-90) scale(0.97 1)">G[T&gt;C]C</text><text class="xl" transform="translate(1360.3 498.0) rotate(-90) scale(0.97 1)">G[T&gt;C]G</text><text class="xl" transform="translate(1375.3 498.0) rotate(-90) scale(0.97 1)">G[T&gt;C]T</text><text class="xl" transform="translate(1390.3 498.0) rotate(-90) scale(0.97 1)">T[T&gt;C]A</text><text class="xl" transform="translate(1405.3 498.0) rotate(-90) scale(0.97 1)">T[T&gt;C]C</text><text class="xl" transform="translate(1420.3 498.0) rotate(-90) scale(0.97 1)">T[T&gt;C]G</text><text class="xl" transform="translate(1435.3 498.0) rotate(-90) scale(0.97 1)">T[T&gt;C]T</text><text class="xl" transform="translate(1450.3 498.0) rotate(-90) scale(0.97 1)">A[T&gt;G]A</text><text class="xl" transform="translate(1465.3 498.0) rotate(-90) scale(0.97 1)">A[T&gt;G]C</text><text class="xl" transform="translate(1480.3 498.0) rotate(-90) scale(0.97 1)">A[T&gt;G]G</text><text class="xl" transform="translate(1495.3 498.0) rotate(-90) scale(0.97 1)">A[T&gt;G]T</text><text class="xl" transform="translate(1510.2 498.0) rotate(-90) scale(0.97 1)">C[T&gt;G]A</text><text class="xl" transform="translate(1525.2 498.0) rotate(-90) scale(0.97 1)">C[T&gt;G]C</text><text class="xl" transform="translate(1540.2 498.0) rotate(-90) scale(0.97 1)">C[T&gt;G]G</text><text class="xl" transform="translate(1555.2 498.0) rotate(-90) scale(0.97 1)">C[T&gt;G]T</text><text class="xl" transform="translate(1570.2 498.0) rotate(-90) scale(0.97 1)">G[T&gt;G]A</text><text class="xl" transform="translate(1585.2 498.0) rotate(-90) scale(0.97 1)">G[T&gt;G]C</text><text class="xl" transform="translate(1600.2 498.0) rotate(-90) scale(0.97 1)">G[T&gt;G]G</text><text class="xl" transform="translate(1615.2 498.0) rotate(-90) scale(0.97 1)">G[T&gt;G]T</text><text class="xl" transform="translate(1630.2 498.0) rotate(-90) scale(0.97 1)">T[T&gt;G]A</text><text class="xl" transform="translate(1645.2 498.0) rotate(-90) scale(0.97 1)">T[T&gt;G]C</text><text class="xl" transform="translate(1660.1 498.0) rotate(-90) scale(0.97 1)">T[T&gt;G]G</text><text class="xl" transform="translate(1675.1 498.0) rotate(-90) scale(0.97 1)">T[T&gt;G]T</text>
</g></g>
</svg>
</body></html>
